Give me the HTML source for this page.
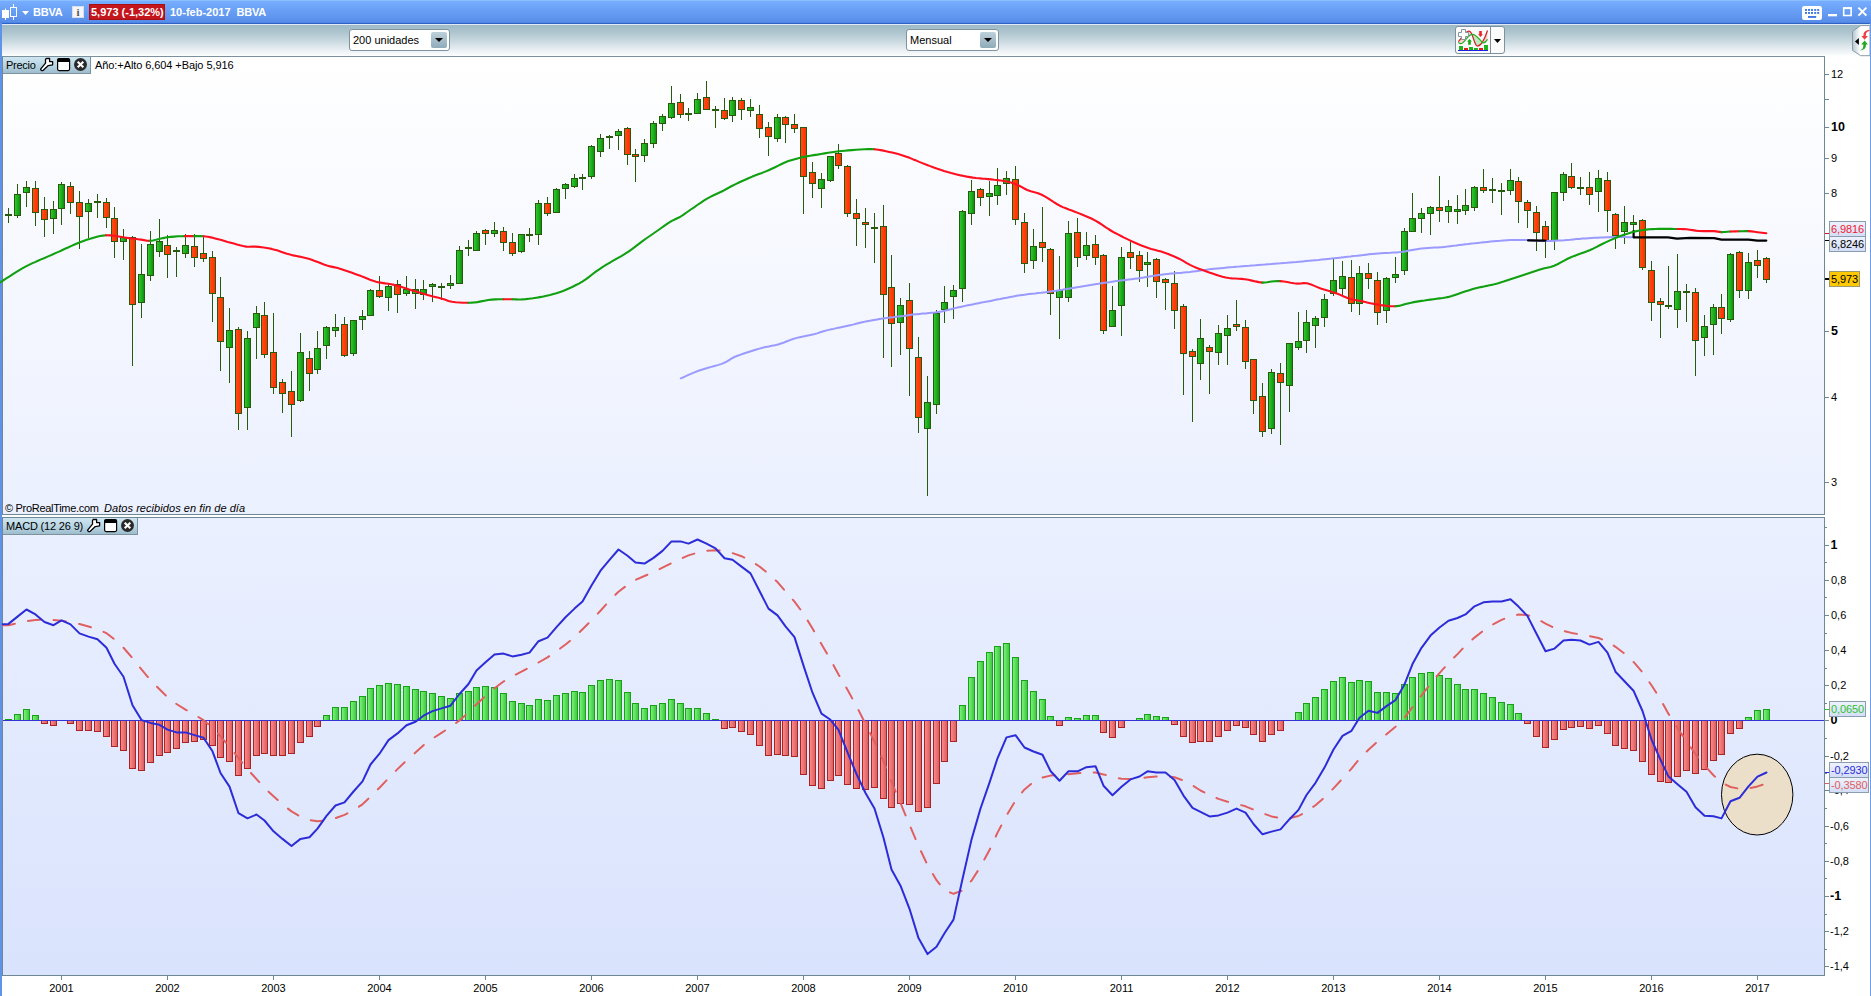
<!DOCTYPE html>
<html><head><meta charset="utf-8"><title>BBVA</title>
<style>
html,body{margin:0;padding:0;background:#fff;}
body{width:1871px;height:996px;position:relative;overflow:hidden;font-family:"Liberation Sans",sans-serif;font-size:11px;color:#000;}
.abs{position:absolute;}
#title{left:0;top:0;width:1871px;height:23px;background:linear-gradient(#93c9ff 0px,#76adff 1.5px,#6ca3f8 8px,#6197ef 16px,#578de8 22px,#4a7fdc 23px);}
#title span{position:absolute;top:6px;color:#fff;font-weight:bold;font-size:11px;white-space:nowrap;letter-spacing:0px}
#tline{left:0;top:23px;width:1871px;height:1px;background:#2f62c6;}
#tline2{left:2px;top:24px;width:1868px;height:1px;background:#dfeaf6;}
#toolbar{left:2px;top:25px;width:1868px;height:31px;background:linear-gradient(#9ebac6 0%,#abc3cd 20%,#c7d7de 50%,#e9eff3 80%,#fdfefe 100%);}
#tbline{left:2px;top:56px;width:1823px;height:1px;background:#7b919d;}
#lb{left:0;top:23px;width:2px;height:973px;background:#5f93ea;}
#rb{left:1870px;top:23px;width:1px;height:973px;background:#6a9cf0;}
.combo{position:absolute;top:29px;height:22px;background:#fff;border:1px solid #7f939e;border-radius:3px;box-sizing:border-box;font-size:11px;}
.combo span{position:absolute;left:3px;top:4px;white-space:nowrap}
.combo i{position:absolute;right:2px;top:2px;width:16px;height:16px;background:linear-gradient(#bcd0da,#8fabb9);border-radius:2px;}
.combo i:after{content:"";position:absolute;left:4px;top:6px;border:4px solid transparent;border-top:4px solid #000;border-bottom:0;}
.tab{position:absolute;height:17px;background:linear-gradient(#cfe6f1,#b5d2e0 60%,#9dbccc);border-right:1px solid #7c929e;border-bottom:1px solid #7c929e;box-sizing:border-box;font-size:11px;}
.tab span{position:absolute;left:3px;top:2px;white-space:nowrap}
.lbl{position:absolute;font-size:11px;white-space:nowrap}
.ax{position:absolute;font-size:11px;white-space:nowrap;line-height:12px}
.box{position:absolute;box-sizing:border-box;height:16px;border:1px solid #8a9db0;background:linear-gradient(#eef2fd,#d4def6);font-size:11px;line-height:14px;padding-left:1px;white-space:nowrap;letter-spacing:-0.1px}
</style></head><body>

<div id="title" class="abs">
<svg class="abs" style="left:0;top:0" width="32" height="24" viewBox="0 0 32 24"><rect x="2" y="10" width="7" height="8" fill="#fff"/><rect x="5" y="8.500" width="1" height="11.500" fill="#fff"/><rect x="10.5" y="7.5" width="6" height="9" fill="none" stroke="#fff" stroke-width="1"/><rect x="13" y="4" width="1" height="4" fill="#fff"/><rect x="13" y="16" width="1" height="4" fill="#fff"/><path d="M22 11 h7 l-3.5 4z" fill="#fff"/></svg>
<span style="left:33px;letter-spacing:-0.25px">BBVA</span>
<svg class="abs" style="left:72px;top:6px" width="13" height="13"><rect x="0.5" y="0.5" width="11" height="11" fill="#f6f6f6" stroke="#d5dff0"/><text x="6" y="10" font-family="Liberation Serif" font-weight="bold" font-size="11" text-anchor="middle" fill="#555">i</text></svg>
<div class="abs" style="left:89px;top:4px;width:76px;height:16px;background:#c4151c;border:1px solid #a80f14;box-sizing:border-box"></div>
<span style="left:91px">5,973 (-1,32%)</span>
<span style="left:170px">10-feb-2017</span><span style="left:236.500px;letter-spacing:-0.25px">BBVA</span>
<svg class="abs" style="left:1800px;top:0" width="71" height="24" viewBox="1800 0 71 24"><rect x="1802" y="6" width="20" height="14" rx="2.200" fill="#fff"/><g fill="#3f78e0"><rect x="1805" y="9" width="2" height="1.900"/><rect x="1808" y="9" width="2" height="1.900"/><rect x="1811" y="9" width="2" height="1.900"/><rect x="1814.2" y="9" width="2" height="1.900"/><rect x="1817.2" y="9" width="2" height="1.900"/><rect x="1805" y="12" width="2" height="1.900"/><rect x="1808" y="12" width="2" height="1.900"/><rect x="1811" y="12" width="2" height="1.900"/><rect x="1814.2" y="12" width="2" height="1.900"/><rect x="1817.2" y="12" width="2" height="1.900"/><rect x="1808" y="16" width="8.200" height="1.900"/></g><rect x="1828" y="14" width="9" height="2.300" fill="#fff"/><path d="M1843.700 8.300 h7.400 v7.200 h-7.400z" fill="none" stroke="#fff" stroke-width="1.600"/><rect x="1843" y="7.100" width="8.900" height="2" fill="#fff"/><path d="M1858.400 7.600 l8 8 M1866.400 7.600 l-8 8" stroke="#fff" stroke-width="2" fill="none"/></svg>
</div>
<div id="tline" class="abs"></div><div id="tline2" class="abs"></div><div id="toolbar" class="abs"></div><div id="tbline" class="abs"></div>
<div class="combo" style="left:349px;width:101px"><span>200 unidades</span><i></i></div>
<div class="combo" style="left:906px;width:93px"><span>Mensual</span><i></i></div>
<div class="abs" style="left:1455px;top:26px;width:50px;height:28px;border:1px solid #7d929e;border-radius:3px;box-sizing:border-box;background:#fbfbfc"></div>
<svg class="abs" style="left:1455px;top:26px" width="50" height="28" viewBox="0 0 50 28"><rect x="35" y="1" width="1" height="26" fill="#7d929e"/><path d="M3.300 15.700 C7 12,10 5.200,14.100 5.200 C18 5.200,19 20,22.400 20 C26 20,30 12,32.500 4.500 L32.500 13.400 C30 17.500,28.500 17,27.500 16.600 C24 13,21 8.300,17.400 8.300 C13 8.300,9 17.700,5.800 17.700 C4.500 17.700,4 17,3.300 16.300z" fill="#f9cccc" opacity=".9"/><path d="M18.300 11 C19.800 15.500,21 20,22.400 20 C24 20,25.500 18,26.800 15.800 C24 12.500,21.500 9.500,18.300 8.500z" fill="#bfe9bf"/><path d="M3.300 15.700 C7 12,10 5.200,14.100 5.200 C18 5.200,19 20,22.400 20 C26 20,30 12,32.500 4.500" fill="none" stroke="#cc2222" stroke-width="1.200"/><path d="M3.300 16.300 C4 17,4.500 17.700,5.800 17.700 C9 17.700,13 8.300,17.400 8.300 C21 8.300,24 13,27.500 16.600 C28.500 17,30 17.500,32.500 13.400" fill="none" stroke="#22b022" stroke-width="1.200"/><g fill="#1fb41f"><rect x="4" y="20" width="4" height="4"/><rect x="14" y="21" width="4" height="3"/><rect x="19" y="22" width="4" height="2"/><rect x="29" y="19" width="4" height="5"/></g><g fill="#e02020"><rect x="9" y="22" width="4" height="2"/><rect x="24" y="22" width="4" height="2"/></g><rect x="3" y="24" width="30" height="1" fill="#2020e0"/><path d="M6.500 3.500 h4 v3 h3 v4 h-3 v3 h-4 v-3 h-3 v-4 h3z" fill="#fff" stroke="#8795a0" stroke-width="1"/><path d="M12.100 15.600 l2.400 -2.600 l2.400 2.600 h-1.100 v3.200 h-2.600 v-3.200z" fill="#14a814"/><path d="M23.100 8.300 l2.400 2.600 l2.400 -2.600 h-1.100 v-3.200 h-2.600 v3.200z" fill="#f02222"/><path d="M39 13 h7 l-3.500 4z" fill="#000"/></svg>
<svg class="abs" style="left:1848px;top:24px" width="23" height="34" viewBox="1848 24 23 34"><defs><linearGradient id="wg" x1="0" y1="0" x2="1" y2="0"><stop offset="0" stop-color="#b4c6d0"/><stop offset=".45" stop-color="#ffffff"/><stop offset="1" stop-color="#ffffff"/></linearGradient></defs><path d="M1870 25.600 H1860.700 L1852.500 31.300 V50.300 L1860.700 55.700 H1870z" fill="url(#wg)" stroke="#8b9ca7" stroke-width="1"/><path d="M1854.900 41.400 l4 -3.500 v7z" fill="#000"/><path d="M1864.600 39.800 L1861.300 36.100 H1863.400 C1863.400 32.500 1865 30.200 1869.500 29.800 V31 C1866.800 31.600 1865.800 33 1865.800 36.100 H1867.900 Z" fill="#ee4040"/><path d="M1864.600 40.400 L1868 44.600 H1866 C1866 48.200 1864.500 50 1859.800 50.600 C1862.600 49.600 1863.400 48 1863.400 44.600 H1861.200 Z" fill="#22aa22"/></svg>
<div id="lb" class="abs"></div><div id="rb" class="abs"></div>
<svg class="abs" style="left:0;top:0" width="1871" height="996" viewBox="0 0 1871 996" shape-rendering="auto">
<defs>
<linearGradient id="bg1" x1="0" y1="0" x2="0" y2="1"><stop offset="0" stop-color="#ffffff"/><stop offset="1" stop-color="#ebf0ff"/></linearGradient>
<linearGradient id="bg2" x1="0" y1="0" x2="0" y2="1"><stop offset="0" stop-color="#eaf0ff"/><stop offset="1" stop-color="#dae3fd"/></linearGradient>
<linearGradient id="cg" x1="0" y1="0" x2="1" y2="0"><stop offset="0" stop-color="#30d030"/><stop offset="1" stop-color="#0c8c0c"/></linearGradient>
<linearGradient id="cr" x1="0" y1="0" x2="1" y2="0"><stop offset="0" stop-color="#ff5018"/><stop offset="1" stop-color="#ff2c00"/></linearGradient>
<linearGradient id="hg" x1="0" y1="0" x2="1" y2="0"><stop offset="0" stop-color="#7cf67c"/><stop offset="1" stop-color="#3cc43c"/></linearGradient>
<linearGradient id="hr" x1="0" y1="0" x2="1" y2="0"><stop offset="0" stop-color="#ff8c8c"/><stop offset="1" stop-color="#d85c5c"/></linearGradient>
</defs>
<rect x="2" y="57" width="1822" height="458" fill="url(#bg1)"/>
<rect x="2" y="518" width="1822" height="457" fill="url(#bg2)"/>
<g fill="#6f8896">
<rect x="2" y="56" width="1" height="459"/><rect x="2" y="517" width="1" height="459"/>
<rect x="2" y="514" width="1823" height="1"/>
<rect x="2" y="517" width="1823" height="1"/>
<rect x="1824" y="57" width="1" height="458"/>
<rect x="1824" y="517" width="1" height="459"/>
<rect x="2" y="975" width="1823" height="1"/>
<rect x="1825" y="74" width="4" height="1"/>
<rect x="1825" y="99" width="4" height="1"/>
<rect x="1825" y="127" width="4" height="1"/>
<rect x="1825" y="158" width="4" height="1"/>
<rect x="1825" y="193" width="4" height="1"/>
<rect x="1825" y="331" width="4" height="1"/>
<rect x="1825" y="397" width="4" height="1"/>
<rect x="1825" y="482" width="4" height="1"/>
<rect x="1825" y="966" width="4" height="1"/>
<rect x="1825" y="949" width="2" height="1"/>
<rect x="1825" y="931" width="4" height="1"/>
<rect x="1825" y="914" width="2" height="1"/>
<rect x="1825" y="896" width="4" height="1"/>
<rect x="1825" y="878" width="2" height="1"/>
<rect x="1825" y="861" width="4" height="1"/>
<rect x="1825" y="843" width="2" height="1"/>
<rect x="1825" y="826" width="4" height="1"/>
<rect x="1825" y="808" width="2" height="1"/>
<rect x="1825" y="790" width="4" height="1"/>
<rect x="1825" y="773" width="2" height="1"/>
<rect x="1825" y="756" width="4" height="1"/>
<rect x="1825" y="738" width="2" height="1"/>
<rect x="1825" y="720" width="4" height="1"/>
<rect x="1825" y="703" width="2" height="1"/>
<rect x="1825" y="685" width="4" height="1"/>
<rect x="1825" y="668" width="2" height="1"/>
<rect x="1825" y="650" width="4" height="1"/>
<rect x="1825" y="633" width="2" height="1"/>
<rect x="1825" y="615" width="4" height="1"/>
<rect x="1825" y="597" width="2" height="1"/>
<rect x="1825" y="580" width="4" height="1"/>
<rect x="1825" y="562" width="2" height="1"/>
<rect x="1825" y="545" width="4" height="1"/>
<rect x="1825" y="527" width="2" height="1"/>
<rect x="61" y="976" width="1" height="4"/>
<rect x="167" y="976" width="1" height="4"/>
<rect x="273" y="976" width="1" height="4"/>
<rect x="379" y="976" width="1" height="4"/>
<rect x="485" y="976" width="1" height="4"/>
<rect x="591" y="976" width="1" height="4"/>
<rect x="697" y="976" width="1" height="4"/>
<rect x="803" y="976" width="1" height="4"/>
<rect x="909" y="976" width="1" height="4"/>
<rect x="1015" y="976" width="1" height="4"/>
<rect x="1121" y="976" width="1" height="4"/>
<rect x="1227" y="976" width="1" height="4"/>
<rect x="1333" y="976" width="1" height="4"/>
<rect x="1439" y="976" width="1" height="4"/>
<rect x="1545" y="976" width="1" height="4"/>
<rect x="1651" y="976" width="1" height="4"/>
<rect x="1757" y="976" width="1" height="4"/>
</g>
<g stroke="#285a0c" stroke-width="1">
<line x1="8.5" y1="208" x2="8.5" y2="223"/>
<rect x="5" y="214" width="7" height="2" fill="#285a0c" stroke="none"/>
<line x1="17.5" y1="184" x2="17.5" y2="218"/>
<rect x="14.5" y="194.5" width="6" height="21.0" fill="url(#cg)"/>
<line x1="26.5" y1="181" x2="26.5" y2="207"/>
<rect x="23.5" y="187.5" width="6" height="5.0" fill="url(#cg)"/>
<line x1="35.5" y1="181" x2="35.5" y2="226"/>
<rect x="32.5" y="188.5" width="6" height="24.0" fill="url(#cr)"/>
<line x1="44.5" y1="197" x2="44.5" y2="237"/>
<rect x="41.5" y="209.5" width="6" height="10.0" fill="url(#cr)"/>
<line x1="53.5" y1="201" x2="53.5" y2="234"/>
<rect x="50.5" y="209.5" width="6" height="9.0" fill="url(#cg)"/>
<line x1="61.5" y1="182" x2="61.5" y2="225"/>
<rect x="58.5" y="184.5" width="6" height="24.0" fill="url(#cg)"/>
<line x1="70.5" y1="182" x2="70.5" y2="214"/>
<rect x="67.5" y="186.5" width="6" height="16.0" fill="url(#cr)"/>
<line x1="79.5" y1="191" x2="79.5" y2="249"/>
<rect x="76.5" y="202.5" width="6" height="14.0" fill="url(#cr)"/>
<line x1="88.5" y1="199" x2="88.5" y2="238"/>
<rect x="85.5" y="203.5" width="6" height="8.0" fill="url(#cg)"/>
<line x1="97.5" y1="194" x2="97.5" y2="218"/>
<rect x="94" y="201" width="7" height="2" fill="#285a0c" stroke="none"/>
<line x1="106.5" y1="198" x2="106.5" y2="228"/>
<rect x="103.5" y="202.5" width="6" height="15.0" fill="url(#cr)"/>
<line x1="114.5" y1="207" x2="114.5" y2="258"/>
<rect x="111.5" y="218.5" width="6" height="23.0" fill="url(#cr)"/>
<line x1="123.5" y1="229" x2="123.5" y2="260"/>
<rect x="120.5" y="237.5" width="6" height="4.0" fill="url(#cg)"/>
<line x1="132.5" y1="236" x2="132.5" y2="366"/>
<rect x="129.5" y="237.5" width="6" height="67.0" fill="url(#cr)"/>
<line x1="141.5" y1="244" x2="141.5" y2="318"/>
<rect x="138.5" y="274.5" width="6" height="28.0" fill="url(#cg)"/>
<line x1="150.5" y1="231" x2="150.5" y2="281"/>
<rect x="147.5" y="244.5" width="6" height="31.0" fill="url(#cg)"/>
<line x1="159.5" y1="219" x2="159.5" y2="257"/>
<rect x="156.5" y="241.5" width="6" height="10.0" fill="url(#cg)"/>
<line x1="167.5" y1="235" x2="167.5" y2="278"/>
<rect x="164.5" y="245.5" width="6" height="9.0" fill="url(#cr)"/>
<line x1="176.5" y1="247" x2="176.5" y2="277"/>
<rect x="173" y="250" width="7" height="2" fill="#285a0c" stroke="none"/>
<line x1="185.5" y1="234" x2="185.5" y2="258"/>
<rect x="182.5" y="245.5" width="6" height="8.0" fill="url(#cg)"/>
<line x1="194.5" y1="234" x2="194.5" y2="267"/>
<rect x="191.5" y="246.5" width="6" height="11.0" fill="url(#cr)"/>
<line x1="203.5" y1="237" x2="203.5" y2="262"/>
<rect x="200.5" y="253.5" width="6" height="5.0" fill="url(#cr)"/>
<line x1="212.5" y1="251" x2="212.5" y2="322"/>
<rect x="209.5" y="257.5" width="6" height="36.0" fill="url(#cr)"/>
<line x1="220.5" y1="277" x2="220.5" y2="371"/>
<rect x="217.5" y="297.5" width="6" height="44.0" fill="url(#cr)"/>
<line x1="229.5" y1="308" x2="229.5" y2="383"/>
<rect x="226.5" y="330.5" width="6" height="17.0" fill="url(#cg)"/>
<line x1="238.5" y1="327" x2="238.5" y2="430"/>
<rect x="235.5" y="329.5" width="6" height="84.0" fill="url(#cr)"/>
<line x1="247.5" y1="331" x2="247.5" y2="430"/>
<rect x="244.5" y="338.5" width="6" height="69.0" fill="url(#cg)"/>
<line x1="256.5" y1="306" x2="256.5" y2="359"/>
<rect x="253.5" y="313.5" width="6" height="14.0" fill="url(#cg)"/>
<line x1="264.5" y1="302" x2="264.5" y2="358"/>
<rect x="261.5" y="315.5" width="6" height="39.0" fill="url(#cr)"/>
<line x1="273.5" y1="313" x2="273.5" y2="394"/>
<rect x="270.5" y="352.5" width="6" height="35.0" fill="url(#cr)"/>
<line x1="282.5" y1="379" x2="282.5" y2="413"/>
<rect x="279.5" y="382.5" width="6" height="11.0" fill="url(#cr)"/>
<line x1="291.5" y1="371" x2="291.5" y2="437"/>
<rect x="288.5" y="391.5" width="6" height="13.0" fill="url(#cr)"/>
<line x1="300.5" y1="333" x2="300.5" y2="402"/>
<rect x="297.5" y="352.5" width="6" height="48.0" fill="url(#cg)"/>
<line x1="309.5" y1="351" x2="309.5" y2="391"/>
<rect x="306.5" y="358.5" width="6" height="15.0" fill="url(#cr)"/>
<line x1="317.5" y1="331" x2="317.5" y2="374"/>
<rect x="314.5" y="348.5" width="6" height="21.0" fill="url(#cg)"/>
<line x1="326.5" y1="326" x2="326.5" y2="359"/>
<rect x="323.5" y="327.5" width="6" height="18.0" fill="url(#cg)"/>
<line x1="335.5" y1="314" x2="335.5" y2="337"/>
<rect x="332.5" y="327.5" width="6" height="3.0" fill="url(#cg)"/>
<line x1="344.5" y1="317" x2="344.5" y2="357"/>
<rect x="341.5" y="324.5" width="6" height="31.0" fill="url(#cr)"/>
<line x1="353.5" y1="320" x2="353.5" y2="356"/>
<rect x="350.5" y="320.5" width="6" height="33.0" fill="url(#cg)"/>
<line x1="362.5" y1="310" x2="362.5" y2="330"/>
<rect x="359.5" y="316.5" width="6" height="3.0" fill="url(#cg)"/>
<line x1="370.5" y1="289" x2="370.5" y2="316"/>
<rect x="367.5" y="290.5" width="6" height="25.0" fill="url(#cg)"/>
<line x1="379.5" y1="276" x2="379.5" y2="298"/>
<rect x="376.5" y="290.5" width="6" height="6.0" fill="url(#cr)"/>
<line x1="388.5" y1="284" x2="388.5" y2="311"/>
<rect x="385.5" y="286.5" width="6" height="11.0" fill="url(#cg)"/>
<line x1="397.5" y1="280" x2="397.5" y2="313"/>
<rect x="394.5" y="284.5" width="6" height="10.0" fill="url(#cr)"/>
<line x1="406.5" y1="276" x2="406.5" y2="296"/>
<rect x="403.5" y="289.5" width="6" height="4.0" fill="url(#cg)"/>
<line x1="415.5" y1="279" x2="415.5" y2="309"/>
<rect x="412.5" y="289.5" width="6" height="4.0" fill="url(#cg)"/>
<line x1="423.5" y1="280" x2="423.5" y2="300"/>
<rect x="420.5" y="289.5" width="6" height="5.0" fill="url(#cg)"/>
<line x1="432.5" y1="283" x2="432.5" y2="302"/>
<rect x="429.5" y="284.5" width="6" height="2.0" fill="url(#cg)"/>
<line x1="441.5" y1="283" x2="441.5" y2="300"/>
<rect x="438" y="286" width="7" height="2" fill="#285a0c" stroke="none"/>
<line x1="450.5" y1="275" x2="450.5" y2="289"/>
<rect x="447.5" y="283.5" width="6" height="2.0" fill="url(#cg)"/>
<line x1="459.5" y1="246" x2="459.5" y2="284"/>
<rect x="456.5" y="250.5" width="6" height="33.0" fill="url(#cg)"/>
<line x1="468.5" y1="240" x2="468.5" y2="256"/>
<rect x="465" y="247" width="7" height="2" fill="#285a0c" stroke="none"/>
<line x1="476.5" y1="231" x2="476.5" y2="251"/>
<rect x="473.5" y="233.5" width="6" height="17.0" fill="url(#cg)"/>
<line x1="485.5" y1="229" x2="485.5" y2="245"/>
<rect x="482.5" y="230.5" width="6" height="3.0" fill="url(#cr)"/>
<line x1="494.5" y1="222" x2="494.5" y2="237"/>
<rect x="491.5" y="230.5" width="6" height="3.0" fill="url(#cg)"/>
<line x1="503.5" y1="227" x2="503.5" y2="251"/>
<rect x="500.5" y="231.5" width="6" height="11.0" fill="url(#cr)"/>
<line x1="512.5" y1="233" x2="512.5" y2="256"/>
<rect x="509.5" y="242.5" width="6" height="11.0" fill="url(#cr)"/>
<line x1="521.5" y1="234" x2="521.5" y2="253"/>
<rect x="518.5" y="234.5" width="6" height="17.0" fill="url(#cg)"/>
<line x1="529.5" y1="228" x2="529.5" y2="242"/>
<rect x="526" y="234" width="7" height="2" fill="#285a0c" stroke="none"/>
<line x1="538.5" y1="200" x2="538.5" y2="245"/>
<rect x="535.5" y="203.5" width="6" height="31.0" fill="url(#cg)"/>
<line x1="547.5" y1="197" x2="547.5" y2="216"/>
<rect x="544.5" y="203.5" width="6" height="10.0" fill="url(#cr)"/>
<line x1="556.5" y1="188" x2="556.5" y2="213"/>
<rect x="553.5" y="189.5" width="6" height="23.0" fill="url(#cg)"/>
<line x1="565.5" y1="183" x2="565.5" y2="199"/>
<rect x="562.5" y="184.5" width="6" height="4.0" fill="url(#cg)"/>
<line x1="574.5" y1="174" x2="574.5" y2="188"/>
<rect x="571.5" y="178.5" width="6" height="8.0" fill="url(#cg)"/>
<line x1="582.5" y1="174" x2="582.5" y2="190"/>
<rect x="579" y="177" width="7" height="2" fill="#285a0c" stroke="none"/>
<line x1="591.5" y1="145" x2="591.5" y2="179"/>
<rect x="588.5" y="146.5" width="6" height="30.0" fill="url(#cg)"/>
<line x1="600.5" y1="134" x2="600.5" y2="157"/>
<rect x="597.5" y="138.5" width="6" height="13.0" fill="url(#cg)"/>
<line x1="609.5" y1="135" x2="609.5" y2="149"/>
<rect x="606.5" y="136.5" width="6" height="1.0" fill="url(#cg)"/>
<line x1="618.5" y1="129" x2="618.5" y2="150"/>
<rect x="615.5" y="131.5" width="6" height="4.0" fill="url(#cg)"/>
<line x1="627.5" y1="127" x2="627.5" y2="165"/>
<rect x="624.5" y="128.5" width="6" height="26.0" fill="url(#cr)"/>
<line x1="635.5" y1="149" x2="635.5" y2="182"/>
<rect x="632.5" y="154.5" width="6" height="2.0" fill="url(#cr)"/>
<line x1="644.5" y1="139" x2="644.5" y2="162"/>
<rect x="641.5" y="143.5" width="6" height="12.0" fill="url(#cg)"/>
<line x1="653.5" y1="121" x2="653.5" y2="148"/>
<rect x="650.5" y="123.5" width="6" height="20.0" fill="url(#cg)"/>
<line x1="662.5" y1="114" x2="662.5" y2="131"/>
<rect x="659.5" y="116.5" width="6" height="7.0" fill="url(#cg)"/>
<line x1="671.5" y1="86" x2="671.5" y2="119"/>
<rect x="668.5" y="103.5" width="6" height="14.0" fill="url(#cg)"/>
<line x1="680.5" y1="94" x2="680.5" y2="118"/>
<rect x="677.5" y="102.5" width="6" height="12.0" fill="url(#cr)"/>
<line x1="688.5" y1="108" x2="688.5" y2="121"/>
<rect x="685" y="113" width="7" height="2" fill="#285a0c" stroke="none"/>
<line x1="697.5" y1="93" x2="697.5" y2="114"/>
<rect x="694.5" y="99.5" width="6" height="14.0" fill="url(#cg)"/>
<line x1="706.5" y1="81" x2="706.5" y2="110"/>
<rect x="703.5" y="97.5" width="6" height="12.0" fill="url(#cr)"/>
<line x1="715.5" y1="106" x2="715.5" y2="128"/>
<rect x="712" y="109" width="7" height="2" fill="#285a0c" stroke="none"/>
<line x1="724.5" y1="98" x2="724.5" y2="120"/>
<rect x="721.5" y="110.5" width="6" height="8.0" fill="url(#cr)"/>
<line x1="732.5" y1="97" x2="732.5" y2="122"/>
<rect x="729.5" y="100.5" width="6" height="15.0" fill="url(#cg)"/>
<line x1="741.5" y1="98" x2="741.5" y2="120"/>
<rect x="738.5" y="100.5" width="6" height="9.0" fill="url(#cr)"/>
<line x1="750.5" y1="99" x2="750.5" y2="117"/>
<rect x="747.5" y="107.5" width="6" height="3.0" fill="url(#cg)"/>
<line x1="759.5" y1="105" x2="759.5" y2="138"/>
<rect x="756.5" y="114.5" width="6" height="14.0" fill="url(#cr)"/>
<line x1="768.5" y1="122" x2="768.5" y2="156"/>
<rect x="765.5" y="127.5" width="6" height="9.0" fill="url(#cr)"/>
<line x1="777.5" y1="114" x2="777.5" y2="142"/>
<rect x="774.5" y="117.5" width="6" height="21.0" fill="url(#cg)"/>
<line x1="785.5" y1="116" x2="785.5" y2="143"/>
<rect x="782.5" y="117.5" width="6" height="7.0" fill="url(#cr)"/>
<line x1="794.5" y1="114" x2="794.5" y2="133"/>
<rect x="791.5" y="124.5" width="6" height="4.0" fill="url(#cr)"/>
<line x1="803.5" y1="127" x2="803.5" y2="214"/>
<rect x="800.5" y="127.5" width="6" height="49.0" fill="url(#cr)"/>
<line x1="812.5" y1="162" x2="812.5" y2="198"/>
<rect x="809.5" y="172.5" width="6" height="11.0" fill="url(#cr)"/>
<line x1="821.5" y1="173" x2="821.5" y2="208"/>
<rect x="818.5" y="179.5" width="6" height="9.0" fill="url(#cg)"/>
<line x1="830.5" y1="156" x2="830.5" y2="182"/>
<rect x="827.5" y="156.5" width="6" height="24.0" fill="url(#cg)"/>
<line x1="838.5" y1="144" x2="838.5" y2="169"/>
<rect x="835.5" y="153.5" width="6" height="12.0" fill="url(#cr)"/>
<line x1="847.5" y1="165" x2="847.5" y2="217"/>
<rect x="844.5" y="166.5" width="6" height="47.0" fill="url(#cr)"/>
<line x1="856.5" y1="199" x2="856.5" y2="246"/>
<rect x="853.5" y="213.5" width="6" height="5.0" fill="url(#cr)"/>
<line x1="865.5" y1="208" x2="865.5" y2="248"/>
<rect x="862.5" y="222.5" width="6" height="2.0" fill="url(#cr)"/>
<line x1="874.5" y1="213" x2="874.5" y2="263"/>
<rect x="871" y="227" width="7" height="2" fill="#285a0c" stroke="none"/>
<line x1="883.5" y1="205" x2="883.5" y2="358"/>
<rect x="880.5" y="226.5" width="6" height="68.0" fill="url(#cr)"/>
<line x1="891.5" y1="255" x2="891.5" y2="367"/>
<rect x="888.5" y="287.5" width="6" height="36.0" fill="url(#cr)"/>
<line x1="900.5" y1="298" x2="900.5" y2="355"/>
<rect x="897.5" y="305.5" width="6" height="17.0" fill="url(#cg)"/>
<line x1="909.5" y1="283" x2="909.5" y2="396"/>
<rect x="906.5" y="300.5" width="6" height="48.0" fill="url(#cr)"/>
<line x1="918.5" y1="337" x2="918.5" y2="433"/>
<rect x="915.5" y="357.5" width="6" height="60.0" fill="url(#cr)"/>
<line x1="927.5" y1="376" x2="927.5" y2="496"/>
<rect x="924.5" y="402.5" width="6" height="26.0" fill="url(#cg)"/>
<line x1="936.5" y1="310" x2="936.5" y2="414"/>
<rect x="933.5" y="313.5" width="6" height="91.0" fill="url(#cg)"/>
<line x1="944.5" y1="286" x2="944.5" y2="323"/>
<rect x="941.5" y="302.5" width="6" height="7.0" fill="url(#cg)"/>
<line x1="953.5" y1="285" x2="953.5" y2="319"/>
<rect x="950.5" y="290.5" width="6" height="6.0" fill="url(#cg)"/>
<line x1="962.5" y1="210" x2="962.5" y2="302"/>
<rect x="959.5" y="211.5" width="6" height="77.0" fill="url(#cg)"/>
<line x1="971.5" y1="180" x2="971.5" y2="225"/>
<rect x="968.5" y="191.5" width="6" height="22.0" fill="url(#cg)"/>
<line x1="980.5" y1="188" x2="980.5" y2="206"/>
<rect x="977.5" y="189.5" width="6" height="8.0" fill="url(#cr)"/>
<line x1="989.5" y1="181" x2="989.5" y2="216"/>
<rect x="986.5" y="193.5" width="6" height="3.0" fill="url(#cg)"/>
<line x1="997.5" y1="168" x2="997.5" y2="205"/>
<rect x="994.5" y="185.5" width="6" height="10.0" fill="url(#cg)"/>
<line x1="1006.5" y1="171" x2="1006.5" y2="195"/>
<rect x="1003.5" y="178.5" width="6" height="5.0" fill="url(#cg)"/>
<line x1="1015.5" y1="166" x2="1015.5" y2="225"/>
<rect x="1012.5" y="179.5" width="6" height="40.0" fill="url(#cr)"/>
<line x1="1024.5" y1="213" x2="1024.5" y2="273"/>
<rect x="1021.5" y="222.5" width="6" height="41.0" fill="url(#cr)"/>
<line x1="1033.5" y1="229" x2="1033.5" y2="269"/>
<rect x="1030.5" y="246.5" width="6" height="14.0" fill="url(#cg)"/>
<line x1="1042.5" y1="207" x2="1042.5" y2="262"/>
<rect x="1039.5" y="242.5" width="6" height="5.0" fill="url(#cr)"/>
<line x1="1050.5" y1="248" x2="1050.5" y2="315"/>
<rect x="1047.5" y="249.5" width="6" height="44.0" fill="url(#cr)"/>
<line x1="1059.5" y1="256" x2="1059.5" y2="339"/>
<rect x="1056.5" y="290.5" width="6" height="7.0" fill="url(#cg)"/>
<line x1="1068.5" y1="221" x2="1068.5" y2="302"/>
<rect x="1065.5" y="233.5" width="6" height="64.0" fill="url(#cg)"/>
<line x1="1077.5" y1="218" x2="1077.5" y2="267"/>
<rect x="1074.5" y="232.5" width="6" height="25.0" fill="url(#cr)"/>
<line x1="1086.5" y1="232" x2="1086.5" y2="260"/>
<rect x="1083.5" y="245.5" width="6" height="10.0" fill="url(#cg)"/>
<line x1="1095.5" y1="235" x2="1095.5" y2="265"/>
<rect x="1092.5" y="244.5" width="6" height="13.0" fill="url(#cr)"/>
<line x1="1103.5" y1="254" x2="1103.5" y2="334"/>
<rect x="1100.5" y="255.5" width="6" height="75.0" fill="url(#cr)"/>
<line x1="1112.5" y1="286" x2="1112.5" y2="327"/>
<rect x="1109.5" y="310.5" width="6" height="16.0" fill="url(#cg)"/>
<line x1="1121.5" y1="247" x2="1121.5" y2="336"/>
<rect x="1118.5" y="257.5" width="6" height="48.0" fill="url(#cg)"/>
<line x1="1130.5" y1="240" x2="1130.5" y2="269"/>
<rect x="1127.5" y="252.5" width="6" height="5.0" fill="url(#cr)"/>
<line x1="1139.5" y1="251" x2="1139.5" y2="282"/>
<rect x="1136.5" y="255.5" width="6" height="15.0" fill="url(#cr)"/>
<line x1="1147.5" y1="252" x2="1147.5" y2="287"/>
<rect x="1144.5" y="262.5" width="6" height="2.0" fill="url(#cg)"/>
<line x1="1156.5" y1="258" x2="1156.5" y2="298"/>
<rect x="1153.5" y="259.5" width="6" height="22.0" fill="url(#cr)"/>
<line x1="1165.5" y1="278" x2="1165.5" y2="310"/>
<rect x="1162.5" y="279.5" width="6" height="3.0" fill="url(#cr)"/>
<line x1="1174.5" y1="271" x2="1174.5" y2="329"/>
<rect x="1171.5" y="283.5" width="6" height="27.0" fill="url(#cr)"/>
<line x1="1183.5" y1="304" x2="1183.5" y2="395"/>
<rect x="1180.5" y="306.5" width="6" height="47.0" fill="url(#cr)"/>
<line x1="1192.5" y1="349" x2="1192.5" y2="422"/>
<rect x="1189.5" y="351.5" width="6" height="5.0" fill="url(#cr)"/>
<line x1="1200.5" y1="319" x2="1200.5" y2="380"/>
<rect x="1197.5" y="338.5" width="6" height="25.0" fill="url(#cg)"/>
<line x1="1209.5" y1="345" x2="1209.5" y2="394"/>
<rect x="1206.5" y="347.5" width="6" height="4.0" fill="url(#cr)"/>
<line x1="1218.5" y1="325" x2="1218.5" y2="365"/>
<rect x="1215.5" y="333.5" width="6" height="19.0" fill="url(#cg)"/>
<line x1="1227.5" y1="315" x2="1227.5" y2="365"/>
<rect x="1224.5" y="328.5" width="6" height="7.0" fill="url(#cg)"/>
<line x1="1236.5" y1="300" x2="1236.5" y2="331"/>
<rect x="1233.5" y="324.5" width="6" height="2.0" fill="url(#cr)"/>
<line x1="1245.5" y1="320" x2="1245.5" y2="369"/>
<rect x="1242.5" y="327.5" width="6" height="34.0" fill="url(#cr)"/>
<line x1="1253.5" y1="359" x2="1253.5" y2="414"/>
<rect x="1250.5" y="359.5" width="6" height="41.0" fill="url(#cr)"/>
<line x1="1262.5" y1="383" x2="1262.5" y2="437"/>
<rect x="1259.5" y="396.5" width="6" height="35.0" fill="url(#cr)"/>
<line x1="1271.5" y1="369" x2="1271.5" y2="434"/>
<rect x="1268.5" y="372.5" width="6" height="56.0" fill="url(#cg)"/>
<line x1="1280.5" y1="363" x2="1280.5" y2="445"/>
<rect x="1277.5" y="373.5" width="6" height="9.0" fill="url(#cr)"/>
<line x1="1289.5" y1="343" x2="1289.5" y2="412"/>
<rect x="1286.5" y="343.5" width="6" height="42.0" fill="url(#cg)"/>
<line x1="1298.5" y1="312" x2="1298.5" y2="350"/>
<rect x="1295.5" y="341.5" width="6" height="6.0" fill="url(#cg)"/>
<line x1="1306.5" y1="310" x2="1306.5" y2="353"/>
<rect x="1303.5" y="322.5" width="6" height="18.0" fill="url(#cg)"/>
<line x1="1315.5" y1="316" x2="1315.5" y2="348"/>
<rect x="1312.5" y="318.5" width="6" height="7.0" fill="url(#cg)"/>
<line x1="1324.5" y1="294" x2="1324.5" y2="327"/>
<rect x="1321.5" y="299.5" width="6" height="18.0" fill="url(#cg)"/>
<line x1="1333.5" y1="259" x2="1333.5" y2="296"/>
<rect x="1330.5" y="280.5" width="6" height="13.0" fill="url(#cg)"/>
<line x1="1342.5" y1="261" x2="1342.5" y2="295"/>
<rect x="1339.5" y="276.5" width="6" height="12.0" fill="url(#cg)"/>
<line x1="1351.5" y1="260" x2="1351.5" y2="312"/>
<rect x="1348.5" y="277.5" width="6" height="26.0" fill="url(#cr)"/>
<line x1="1359.5" y1="266" x2="1359.5" y2="315"/>
<rect x="1356.5" y="273.5" width="6" height="30.0" fill="url(#cg)"/>
<line x1="1368.5" y1="263" x2="1368.5" y2="289"/>
<rect x="1365.5" y="273.5" width="6" height="5.0" fill="url(#cr)"/>
<line x1="1377.5" y1="272" x2="1377.5" y2="325"/>
<rect x="1374.5" y="280.5" width="6" height="32.0" fill="url(#cr)"/>
<line x1="1386.5" y1="277" x2="1386.5" y2="323"/>
<rect x="1383.5" y="278.5" width="6" height="32.0" fill="url(#cg)"/>
<line x1="1395.5" y1="257" x2="1395.5" y2="283"/>
<rect x="1392.5" y="274.5" width="6" height="3.0" fill="url(#cg)"/>
<line x1="1404.5" y1="228" x2="1404.5" y2="275"/>
<rect x="1401.5" y="231.5" width="6" height="39.0" fill="url(#cg)"/>
<line x1="1412.5" y1="193" x2="1412.5" y2="232"/>
<rect x="1409.5" y="218.5" width="6" height="13.0" fill="url(#cg)"/>
<line x1="1421.5" y1="208" x2="1421.5" y2="233"/>
<rect x="1418.5" y="213.5" width="6" height="5.0" fill="url(#cg)"/>
<line x1="1430.5" y1="206" x2="1430.5" y2="235"/>
<rect x="1427.5" y="207.5" width="6" height="6.0" fill="url(#cg)"/>
<line x1="1439.5" y1="176" x2="1439.5" y2="222"/>
<rect x="1436.5" y="207.5" width="6" height="3.0" fill="url(#cr)"/>
<line x1="1448.5" y1="200" x2="1448.5" y2="223"/>
<rect x="1445.5" y="206.5" width="6" height="5.0" fill="url(#cg)"/>
<line x1="1457.5" y1="195" x2="1457.5" y2="224"/>
<rect x="1454.5" y="209.5" width="6" height="2.0" fill="url(#cg)"/>
<line x1="1465.5" y1="189" x2="1465.5" y2="215"/>
<rect x="1462.5" y="205.5" width="6" height="5.0" fill="url(#cg)"/>
<line x1="1474.5" y1="186" x2="1474.5" y2="211"/>
<rect x="1471.5" y="187.5" width="6" height="20.0" fill="url(#cg)"/>
<line x1="1483.5" y1="169" x2="1483.5" y2="193"/>
<rect x="1480.5" y="187.5" width="6" height="3.0" fill="url(#cr)"/>
<line x1="1492.5" y1="178" x2="1492.5" y2="203"/>
<rect x="1489" y="189" width="7" height="2" fill="#285a0c" stroke="none"/>
<line x1="1501.5" y1="183" x2="1501.5" y2="215"/>
<rect x="1498" y="190" width="7" height="2" fill="#285a0c" stroke="none"/>
<line x1="1510.5" y1="169" x2="1510.5" y2="195"/>
<rect x="1507.5" y="180.5" width="6" height="10.0" fill="url(#cg)"/>
<line x1="1518.5" y1="177" x2="1518.5" y2="223"/>
<rect x="1515.5" y="181.5" width="6" height="20.0" fill="url(#cr)"/>
<line x1="1527.5" y1="200" x2="1527.5" y2="228"/>
<rect x="1524.5" y="202.5" width="6" height="8.0" fill="url(#cr)"/>
<line x1="1536.5" y1="206" x2="1536.5" y2="251"/>
<rect x="1533.5" y="212.5" width="6" height="20.0" fill="url(#cr)"/>
<line x1="1545.5" y1="221" x2="1545.5" y2="258"/>
<rect x="1542.5" y="226.5" width="6" height="14.0" fill="url(#cr)"/>
<line x1="1554.5" y1="192" x2="1554.5" y2="250"/>
<rect x="1551.5" y="192.5" width="6" height="48.0" fill="url(#cg)"/>
<line x1="1563.5" y1="172" x2="1563.5" y2="201"/>
<rect x="1560.5" y="174.5" width="6" height="18.0" fill="url(#cg)"/>
<line x1="1571.5" y1="163" x2="1571.5" y2="189"/>
<rect x="1568.5" y="176.5" width="6" height="11.0" fill="url(#cr)"/>
<line x1="1580.5" y1="177" x2="1580.5" y2="195"/>
<rect x="1577" y="187" width="7" height="2" fill="#285a0c" stroke="none"/>
<line x1="1589.5" y1="172" x2="1589.5" y2="205"/>
<rect x="1586.5" y="187.5" width="6" height="7.0" fill="url(#cr)"/>
<line x1="1598.5" y1="170" x2="1598.5" y2="212"/>
<rect x="1595.5" y="178.5" width="6" height="13.0" fill="url(#cg)"/>
<line x1="1607.5" y1="172" x2="1607.5" y2="232"/>
<rect x="1604.5" y="180.5" width="6" height="30.0" fill="url(#cr)"/>
<line x1="1615.5" y1="213" x2="1615.5" y2="249"/>
<rect x="1612.5" y="214.5" width="6" height="21.0" fill="url(#cr)"/>
<line x1="1624.5" y1="206" x2="1624.5" y2="244"/>
<rect x="1621.5" y="222.5" width="6" height="9.0" fill="url(#cg)"/>
<line x1="1633.5" y1="215" x2="1633.5" y2="238"/>
<rect x="1630.5" y="222.5" width="6" height="2.0" fill="url(#cg)"/>
<line x1="1642.5" y1="219" x2="1642.5" y2="270"/>
<rect x="1639.5" y="220.5" width="6" height="47.0" fill="url(#cr)"/>
<line x1="1651.5" y1="261" x2="1651.5" y2="321"/>
<rect x="1648.5" y="270.5" width="6" height="32.0" fill="url(#cr)"/>
<line x1="1660.5" y1="298" x2="1660.5" y2="338"/>
<rect x="1657.5" y="301.5" width="6" height="3.0" fill="url(#cr)"/>
<line x1="1668.5" y1="266" x2="1668.5" y2="309"/>
<rect x="1665" y="305" width="7" height="2" fill="#285a0c" stroke="none"/>
<line x1="1677.5" y1="254" x2="1677.5" y2="328"/>
<rect x="1674.5" y="291.5" width="6" height="18.0" fill="url(#cg)"/>
<line x1="1686.5" y1="284" x2="1686.5" y2="322"/>
<rect x="1683" y="291" width="7" height="2" fill="#285a0c" stroke="none"/>
<line x1="1695.5" y1="288" x2="1695.5" y2="376"/>
<rect x="1692.5" y="292.5" width="6" height="48.0" fill="url(#cr)"/>
<line x1="1704.5" y1="315" x2="1704.5" y2="356"/>
<rect x="1701.5" y="326.5" width="6" height="11.0" fill="url(#cg)"/>
<line x1="1713.5" y1="304" x2="1713.5" y2="355"/>
<rect x="1710.5" y="307.5" width="6" height="17.0" fill="url(#cg)"/>
<line x1="1721.5" y1="294" x2="1721.5" y2="334"/>
<rect x="1718.5" y="307.5" width="6" height="11.0" fill="url(#cr)"/>
<line x1="1730.5" y1="253" x2="1730.5" y2="322"/>
<rect x="1727.5" y="254.5" width="6" height="65.0" fill="url(#cg)"/>
<line x1="1739.5" y1="251" x2="1739.5" y2="298"/>
<rect x="1736.5" y="252.5" width="6" height="38.0" fill="url(#cr)"/>
<line x1="1748.5" y1="253" x2="1748.5" y2="299"/>
<rect x="1745.5" y="262.5" width="6" height="28.0" fill="url(#cg)"/>
<line x1="1757.5" y1="250" x2="1757.5" y2="278"/>
<rect x="1754.5" y="260.5" width="6" height="5.0" fill="url(#cr)"/>
<line x1="1766.5" y1="257" x2="1766.5" y2="283"/>
<rect x="1763.5" y="258.5" width="6" height="21.0" fill="url(#cr)"/>
</g>
<polyline points="680.8,378.3 684.3,376.8 687.9,375.2 691.4,373.6 695.0,372.1 698.5,370.8 701.7,369.7 704.9,368.7 708.1,367.8 711.3,366.9 714.5,366.0 717.7,365.1 720.9,364.1 724.1,362.9 727.5,361.1 731.0,358.8 734.4,357.0 737.5,355.8 740.7,354.6 743.8,353.5 746.9,352.5 750.1,351.5 753.2,350.5 756.3,349.5 759.5,348.6 762.6,347.7 765.7,346.9 768.8,346.4 771.8,345.8 774.9,345.3 778.0,344.5 781.0,343.5 784.0,342.5 787.0,341.3 790.0,340.1 793.0,339.0 796.0,338.1 799.6,337.2 803.2,336.5 806.7,335.8 810.3,335.1 813.9,334.3 817.1,333.4 820.3,332.3 823.5,331.3 826.7,330.4 830.0,329.6 833.4,328.9 836.7,328.1 840.0,327.4 843.3,326.7 846.7,326.0 850.0,325.3 853.0,324.6 856.1,323.8 859.1,323.0 862.2,322.3 865.2,321.6 868.8,320.9 872.4,320.3 875.9,319.7 879.5,319.1 883.1,318.6 886.5,318.1 889.9,317.6 893.2,317.2 896.6,316.7 900.0,316.3 903.3,315.9 906.5,315.4 909.8,315.0 913.0,314.6 916.3,314.2 919.4,313.9 922.6,313.6 925.7,313.4 928.9,313.1 932.0,312.8 935.2,312.5 938.3,312.0 941.5,311.4 944.6,310.7 947.8,310.0 950.9,309.2 954.1,308.4 957.2,307.6 960.4,306.9 963.4,306.3 966.4,305.6 969.5,305.0 972.5,304.4 975.5,303.8 978.5,303.2 981.5,302.6 984.5,302.1 987.6,301.5 990.6,300.9 993.6,300.3 996.9,299.6 1000.2,299.0 1003.5,298.3 1006.8,297.7 1010.1,297.0 1013.4,296.4 1016.7,295.8 1020.0,295.3 1023.0,294.9 1026.0,294.5 1029.0,294.1 1032.0,293.8 1035.1,293.5 1038.1,293.1 1041.1,292.8 1044.1,292.4 1047.1,292.0 1050.1,291.6 1053.1,291.1 1056.2,290.7 1059.2,290.2 1062.2,289.8 1065.2,289.3 1068.2,288.8 1071.2,288.3 1074.2,287.8 1077.2,287.3 1080.2,286.8 1083.3,286.2 1086.3,285.7 1089.3,285.2 1092.3,284.7 1095.3,284.2 1098.3,283.8 1101.3,283.3 1104.3,282.8 1107.4,282.4 1110.4,282.0 1113.4,281.5 1116.4,281.1 1119.4,280.7 1122.4,280.3 1125.4,279.9 1128.5,279.6 1131.5,279.2 1134.5,278.8 1137.5,278.4 1140.5,278.0 1143.5,277.6 1146.5,277.1 1149.5,276.6 1152.5,276.1 1155.6,275.6 1158.6,275.1 1161.6,274.7 1164.6,274.3 1167.8,273.9 1170.9,273.6 1174.1,273.4 1177.3,273.1 1180.5,272.9 1183.7,272.6 1186.8,272.3 1190.0,272.0 1193.0,271.6 1196.0,271.2 1199.0,270.8 1202.1,270.3 1205.1,269.9 1208.1,269.5 1211.1,269.1 1214.3,268.8 1217.4,268.5 1220.6,268.2 1223.7,267.9 1226.9,267.6 1230.1,267.3 1233.2,267.1 1236.4,266.8 1239.5,266.6 1242.7,266.3 1245.9,266.0 1249.0,265.8 1252.2,265.5 1255.3,265.3 1258.5,265.0 1261.7,264.8 1264.8,264.6 1268.0,264.3 1271.1,264.1 1274.3,263.8 1277.5,263.5 1280.6,263.3 1283.8,263.0 1286.9,262.8 1290.1,262.5 1293.3,262.2 1296.4,262.0 1299.6,261.7 1302.7,261.4 1305.9,261.1 1309.1,260.8 1312.2,260.5 1315.4,260.2 1318.6,259.9 1321.8,259.5 1324.9,259.2 1328.1,258.9 1331.3,258.6 1334.4,258.2 1337.6,257.9 1340.8,257.6 1344.0,257.2 1347.2,256.8 1350.4,256.5 1353.6,256.1 1356.8,255.8 1360.0,255.4 1363.0,255.1 1366.0,254.7 1369.0,254.3 1372.1,254.0 1375.1,253.7 1378.1,253.4 1381.2,253.2 1384.3,253.0 1387.4,252.9 1390.5,252.8 1393.6,252.6 1396.7,252.4 1399.8,252.1 1402.9,251.7 1406.0,251.2 1409.1,250.6 1412.1,250.0 1415.2,249.4 1418.3,248.9 1421.4,248.5 1424.7,248.2 1428.0,248.0 1431.3,247.8 1434.7,247.6 1438.0,247.5 1441.3,247.2 1444.3,246.9 1447.3,246.6 1450.3,246.2 1453.3,245.8 1456.4,245.5 1459.4,245.1 1462.4,244.7 1465.4,244.3 1468.4,244.0 1471.6,243.6 1474.7,243.3 1477.9,242.9 1481.1,242.6 1484.2,242.2 1487.4,241.9 1490.5,241.6 1493.7,241.3 1497.0,241.0 1500.3,240.8 1503.7,240.5 1507.0,240.3 1510.3,240.1 1513.6,240.0 1517.2,239.9 1520.8,239.9 1524.5,239.9 1528.1,240.0 1531.4,240.2 1534.7,240.5 1537.9,240.7 1541.2,241.0 1544.5,241.1 1547.9,241.1 1551.2,241.0 1554.6,240.8 1557.9,240.6 1561.3,240.4 1564.3,240.2 1567.3,239.9 1570.3,239.7 1573.3,239.4 1576.4,239.1 1579.4,238.9 1582.4,238.6 1585.4,238.4 1588.4,238.2 1591.4,238.0 1594.4,237.8 1597.5,237.7 1600.5,237.5 1603.5,237.4 1606.5,237.3 1609.5,237.2 1612.5,237.1 1615.5,237.1 1618.5,237.1 1621.5,237.1 1624.6,237.1 1627.6,237.2 1630.6,237.2 1633.6,237.2" fill="none" stroke="#9a9aff" stroke-width="2.0" stroke-linejoin="round" stroke-linecap="round" />
<polyline points="1528.1,240.4 1545.5,240.6" fill="none" stroke="#000" stroke-width="2.2" stroke-linejoin="round" stroke-linecap="round" stroke-linecap="butt"/>
<polyline points="1633.6,230.8 1633.6,237.3 1668.0,237.3 1677.0,238.6 1690.0,237.9 1714.1,238.2 1721.5,239.6 1748.5,239.6 1757.5,240.6 1766.3,240.6" fill="none" stroke="#000" stroke-width="2.2" stroke-linejoin="round" stroke-linecap="round" />
<polyline points="0.0,282.4 3.0,280.5 6.3,278.4 9.6,276.3 12.9,274.2 16.1,272.2 19.4,270.1 22.7,268.2 26.0,266.4 29.0,264.9 32.0,263.4 35.0,262.1 38.0,260.7 41.0,259.4 44.0,258.2 47.0,256.9 50.0,255.6 53.0,254.3 56.0,252.9 59.0,251.6 62.0,250.2 65.0,248.8 68.0,247.5 71.0,246.1 74.0,244.8 77.0,243.5 80.0,242.3 83.4,241.0 86.8,239.8 90.2,238.7 93.6,237.7 97.0,236.7 100.0,236.0 103.0,235.6 106.0,235.3" fill="none" stroke="#10a010" stroke-width="2.1" stroke-linejoin="round" stroke-linecap="round" />
<polyline points="106.0,235.3 110.2,235.4 114.5,235.8 118.8,236.5 123.0,237.3 126.0,237.7 129.0,238.1 132.0,238.5 135.0,238.8 138.0,239.2 141.0,239.6 144.0,240.1 147.0,240.7 150.0,240.9" fill="none" stroke="#ff1020" stroke-width="2.1" stroke-linejoin="round" stroke-linecap="round" />
<polyline points="150.0,240.9 153.0,240.5 156.0,239.8 159.0,239.0 163.0,238.1 167.0,237.3 170.7,236.9 174.3,236.6 178.0,236.3 181.5,236.2 185.0,236.1" fill="none" stroke="#10a010" stroke-width="2.1" stroke-linejoin="round" stroke-linecap="round" />
<polyline points="185.0,236.1 188.0,236.1 191.0,236.1 194.0,236.1" fill="none" stroke="#ff1020" stroke-width="2.1" stroke-linejoin="round" stroke-linecap="round" />
<polyline points="194.0,236.1 197.2,236.1 200.3,236.1 203.5,236.2" fill="none" stroke="#10a010" stroke-width="2.1" stroke-linejoin="round" stroke-linecap="round" />
<polyline points="203.5,236.2 207.8,236.7 212.0,237.6 215.1,238.4 218.3,239.2 221.4,240.1 224.6,241.0 227.7,241.9 230.8,242.7 233.9,243.6 236.9,244.5 240.0,245.3 243.1,246.0 246.2,246.6 249.3,246.8 252.4,246.6 255.5,246.6 258.7,246.9 261.9,247.3 265.2,247.7 268.4,248.2 271.6,248.9 274.7,249.7 277.8,250.6 280.9,251.7 283.9,252.7 287.0,253.7 290.1,254.6 293.2,255.4 296.3,256.0 299.4,256.6 302.4,257.3 305.5,258.0 308.6,258.8 311.7,259.8 314.7,260.9 317.8,262.1 320.9,263.3 323.9,264.5 327.0,265.5 330.2,266.4 333.5,267.1 336.8,267.8 340.0,268.7 343.0,269.7 346.0,270.7 349.1,271.7 352.1,272.8 355.1,273.9 358.1,275.0 361.1,276.1 364.1,277.3 367.1,278.5 370.1,279.7 373.1,280.8 376.1,281.7 379.1,282.4 382.1,282.9 385.1,283.4 388.2,283.8 391.2,284.3 394.2,284.9 397.2,285.7 400.2,286.6 403.2,287.5 406.3,288.5 409.3,289.5 412.3,290.4 415.3,291.3 418.3,292.2 421.4,293.1 424.4,294.1 427.4,294.9 430.4,295.8 434.0,296.7 437.6,297.6 441.2,298.5 444.8,299.6 448.4,300.9 452.0,301.8 455.6,302.3 459.3,302.5 462.9,302.7 468.3,302.7" fill="none" stroke="#ff1020" stroke-width="2.1" stroke-linejoin="round" stroke-linecap="round" />
<polyline points="468.3,302.7 471.3,302.6 474.4,302.4 477.4,302.1 481.0,301.4 484.6,300.7 488.2,300.0 491.8,299.6 495.4,299.4 499.0,299.2 503.6,299.2" fill="none" stroke="#10a010" stroke-width="2.1" stroke-linejoin="round" stroke-linecap="round" />
<polyline points="503.6,299.2 508.0,299.2 512.4,299.3" fill="none" stroke="#ff1020" stroke-width="2.1" stroke-linejoin="round" stroke-linecap="round" />
<polyline points="512.4,299.3 515.6,299.4 518.8,299.5 522.0,299.4 525.6,299.1 529.2,298.7 532.9,298.3 536.5,297.7 539.9,297.1 543.3,296.5 546.6,295.7 550.0,295.0 553.4,294.1 556.4,293.3 559.4,292.3 562.4,291.2 565.4,290.0 568.8,288.5 572.2,287.0 575.5,285.3 578.9,283.6 582.3,281.6 585.7,279.4 589.1,276.9 592.4,274.3 595.8,271.7 599.2,269.3 602.8,266.9 606.4,264.7 610.0,262.6 613.6,260.4 617.2,258.3 620.9,256.3 624.5,254.2 628.1,251.9 631.7,249.3 635.3,246.6 638.9,243.8 642.5,241.1 646.1,238.5 649.8,236.0 653.4,233.5 657.0,231.0 660.6,228.5 664.2,225.9 667.8,223.4 671.4,221.1 675.7,219.0 680.0,217.0 683.6,214.6 687.2,212.0 690.8,209.5 694.1,207.3 697.3,205.0 700.6,202.8 703.8,200.7 707.1,198.7 710.4,196.9 713.6,195.3 716.9,193.8 720.1,192.3 723.4,190.7 726.4,189.0 729.4,187.3 732.4,185.7 735.7,184.1 739.0,182.5 742.3,181.0 745.7,179.5 749.0,178.0 752.3,176.6 755.6,175.3 758.8,174.1 762.1,172.9 765.3,171.6 768.6,170.3 771.8,168.8 775.1,167.2 778.3,165.6 781.6,164.0 784.8,162.5 788.4,161.1 792.1,159.9 795.7,158.9 799.3,158.0 802.9,157.1 806.5,156.4 810.1,155.7 813.8,155.1 817.4,154.6 821.0,154.0 824.6,153.4 828.2,152.8 831.8,152.2 835.4,151.7 838.6,151.3 841.8,151.0 844.9,150.7 848.1,150.4 852.0,150.1 856.0,149.8 860.2,149.5 864.5,149.2 867.8,149.1 871.1,149.0 874.4,149.2" fill="none" stroke="#10a010" stroke-width="2.1" stroke-linejoin="round" stroke-linecap="round" />
<polyline points="874.4,149.2 878.3,149.7 882.2,150.4 886.1,151.2 889.1,151.9 892.1,152.6 895.2,153.3 898.2,154.1 901.2,155.0 904.2,155.9 907.2,157.0 910.2,158.1 913.2,159.4 916.3,160.6 919.3,161.9 922.3,163.1 925.3,164.3 928.3,165.4 931.3,166.6 934.4,167.7 937.4,168.8 940.4,169.8 944.0,171.0 947.6,172.1 951.2,173.1 954.8,174.0 957.8,174.7 960.8,175.4 963.8,176.0 966.9,176.6 969.9,177.1 972.9,177.6 975.9,178.0 978.9,178.3 982.0,178.6 985.0,178.8 988.0,179.1 991.0,179.4 994.2,179.8 997.5,180.1 1000.7,180.5 1004.0,181.0 1007.2,181.6 1010.8,182.5 1014.5,183.8 1018.1,185.2 1021.1,186.7 1024.2,188.5 1027.2,190.0 1030.8,191.3 1034.5,192.3 1038.1,193.3 1041.7,194.8 1044.7,196.4 1047.7,198.2 1050.8,200.2 1053.8,202.2 1056.8,204.0 1059.8,205.7 1062.8,207.1 1065.8,208.3 1068.8,209.5 1071.8,210.6 1074.8,211.7 1077.8,212.9 1081.3,214.3 1084.8,215.8 1088.4,217.2 1091.9,218.8 1095.4,220.6 1098.6,222.5 1101.9,224.6 1105.1,226.8 1108.4,229.0 1111.6,231.0 1114.7,232.8 1117.9,234.4 1121.0,236.0 1124.1,237.6 1127.3,239.1 1130.4,240.6 1133.9,242.2 1137.3,243.7 1140.8,245.2 1144.2,246.5 1147.7,247.8 1151.1,248.9 1154.5,249.8 1157.8,250.7 1161.2,251.6 1164.6,252.7 1168.2,254.0 1171.8,255.5 1175.4,257.0 1179.0,258.7 1182.7,260.7 1186.3,262.9 1190.0,264.9 1193.2,266.4 1196.3,267.7 1199.4,268.9 1202.6,270.1 1205.9,271.3 1209.2,272.5 1212.5,273.6 1215.9,274.7 1219.2,275.8 1222.5,276.7 1225.8,277.5 1229.0,278.0 1232.1,278.4 1235.3,278.5 1238.5,278.7 1241.6,278.9 1244.8,279.2 1248.3,279.8 1251.9,280.6 1255.4,281.4 1259.0,282.1 1262.5,282.6" fill="none" stroke="#ff1020" stroke-width="2.1" stroke-linejoin="round" stroke-linecap="round" />
<polyline points="1262.5,282.6 1267.0,282.2 1271.4,281.5 1274.4,281.2 1277.4,281.0 1280.4,281.1" fill="none" stroke="#10a010" stroke-width="2.1" stroke-linejoin="round" stroke-linecap="round" />
<polyline points="1280.4,281.1 1283.8,281.5 1287.2,282.0 1290.7,282.7 1294.1,283.2 1297.5,283.6 1300.7,283.5 1303.8,283.1 1307.0,283.2 1310.4,284.2 1313.8,285.6 1317.3,287.1 1320.7,288.5 1324.1,289.6 1327.5,290.6 1330.8,291.6 1334.2,292.7 1337.6,293.8 1340.8,295.1 1343.9,296.5 1347.0,297.8 1350.2,299.0 1353.5,299.8 1356.7,300.3 1360.0,300.9 1363.5,301.6 1367.0,302.4 1370.5,303.2 1374.0,303.9 1377.5,304.5 1381.1,305.1 1384.7,305.6 1388.2,306.1 1391.8,306.3 1395.4,306.3" fill="none" stroke="#ff1020" stroke-width="2.1" stroke-linejoin="round" stroke-linecap="round" />
<polyline points="1395.4,306.3 1398.8,305.9 1402.2,305.1 1405.6,304.1 1409.0,303.2 1412.4,302.4 1415.4,301.9 1418.4,301.4 1421.5,300.9 1424.5,300.5 1427.5,300.0 1430.5,299.6 1433.5,299.2 1436.5,298.8 1439.5,298.4 1442.6,298.0 1445.6,297.5 1448.6,296.9 1451.8,296.1 1454.9,295.0 1458.0,293.9 1461.2,292.8 1464.8,291.6 1468.5,290.4 1472.1,289.3 1475.7,288.3 1478.8,287.5 1481.9,286.9 1485.0,286.2 1488.1,285.6 1491.2,284.9 1494.3,284.2 1497.4,283.4 1500.5,282.5 1503.6,281.6 1506.7,280.6 1509.7,279.6 1512.8,278.5 1515.9,277.5 1519.0,276.5 1522.0,275.5 1525.0,274.5 1528.0,273.5 1531.0,272.5 1534.0,271.5 1537.0,270.5 1540.0,269.6 1543.5,268.6 1547.0,267.8 1550.6,266.9 1554.1,265.7 1557.5,264.2 1560.9,262.4 1564.2,260.6 1567.6,258.8 1571.0,257.2 1574.2,255.9 1577.4,254.7 1580.6,253.6 1583.8,252.4 1587.0,251.3 1590.2,250.0 1593.2,248.6 1596.2,247.1 1599.3,245.5 1602.3,244.0 1605.6,242.4 1608.9,240.9 1612.2,239.4 1615.5,238.0 1618.6,236.8 1621.8,235.6 1624.9,234.4 1628.1,233.4 1631.2,232.4 1634.2,231.6 1637.2,231.0 1640.3,230.5 1643.3,230.0 1646.3,229.6 1649.3,229.3 1652.3,229.1 1655.3,229.0 1658.5,228.9 1661.6,228.9 1664.8,228.9 1668.0,228.9 1671.2,228.9 1674.3,229.0 1677.5,229.0" fill="none" stroke="#10a010" stroke-width="2.1" stroke-linejoin="round" stroke-linecap="round" />
<polyline points="1677.5,229.0 1680.5,229.0 1683.6,229.1 1686.6,229.3 1689.6,229.7 1692.7,230.1 1695.7,230.6 1698.7,231.0 1704.1,231.1 1707.4,231.1 1710.8,231.0 1714.1,231.1 1717.8,231.6 1721.5,232.1" fill="none" stroke="#ff1020" stroke-width="2.1" stroke-linejoin="round" stroke-linecap="round" />
<polyline points="1721.5,232.1 1724.5,232.0 1727.6,231.7 1730.6,231.5" fill="none" stroke="#10a010" stroke-width="2.1" stroke-linejoin="round" stroke-linecap="round" />
<polyline points="1730.6,231.5 1735.0,231.4 1739.4,231.3" fill="none" stroke="#ff1020" stroke-width="2.1" stroke-linejoin="round" stroke-linecap="round" />
<polyline points="1739.4,231.3 1742.4,231.2 1745.5,231.1 1748.5,231.1" fill="none" stroke="#10a010" stroke-width="2.1" stroke-linejoin="round" stroke-linecap="round" />
<polyline points="1748.5,231.1 1751.5,231.4 1754.5,231.8 1757.5,232.2 1761.9,232.7 1766.3,233.3 1766.3,233.3" fill="none" stroke="#ff1020" stroke-width="2.1" stroke-linejoin="round" stroke-linecap="round" />
<ellipse cx="1757.2" cy="794.6" rx="35.7" ry="40.4" fill="#ecdfca" stroke="#000" stroke-width="1"/>
<rect x="5.5" y="719.5" width="6" height="1.0" fill="url(#hg)" stroke="#18a018" stroke-width="1"/>
<rect x="14.5" y="714.5" width="6" height="6.0" fill="url(#hg)" stroke="#18a018" stroke-width="1"/>
<rect x="23.5" y="709.5" width="6" height="11.0" fill="url(#hg)" stroke="#18a018" stroke-width="1"/>
<rect x="32.5" y="715.5" width="6" height="5.0" fill="url(#hg)" stroke="#18a018" stroke-width="1"/>
<rect x="41.5" y="720.5" width="6" height="3.0" fill="url(#hr)" stroke="#a82424" stroke-width="1"/>
<rect x="50.5" y="720.5" width="6" height="5.0" fill="url(#hr)" stroke="#a82424" stroke-width="1"/>
<rect x="67.5" y="720.5" width="6" height="3.0" fill="url(#hr)" stroke="#a82424" stroke-width="1"/>
<rect x="76.5" y="720.5" width="6" height="10.0" fill="url(#hr)" stroke="#a82424" stroke-width="1"/>
<rect x="85.5" y="720.5" width="6" height="10.0" fill="url(#hr)" stroke="#a82424" stroke-width="1"/>
<rect x="94.5" y="720.5" width="6" height="11.0" fill="url(#hr)" stroke="#a82424" stroke-width="1"/>
<rect x="103.5" y="720.5" width="6" height="16.0" fill="url(#hr)" stroke="#a82424" stroke-width="1"/>
<rect x="111.5" y="720.5" width="6" height="26.0" fill="url(#hr)" stroke="#a82424" stroke-width="1"/>
<rect x="120.5" y="720.5" width="6" height="30.0" fill="url(#hr)" stroke="#a82424" stroke-width="1"/>
<rect x="129.5" y="720.5" width="6" height="48.0" fill="url(#hr)" stroke="#a82424" stroke-width="1"/>
<rect x="138.5" y="720.5" width="6" height="50.0" fill="url(#hr)" stroke="#a82424" stroke-width="1"/>
<rect x="147.5" y="720.5" width="6" height="42.0" fill="url(#hr)" stroke="#a82424" stroke-width="1"/>
<rect x="156.5" y="720.5" width="6" height="35.0" fill="url(#hr)" stroke="#a82424" stroke-width="1"/>
<rect x="164.5" y="720.5" width="6" height="32.0" fill="url(#hr)" stroke="#a82424" stroke-width="1"/>
<rect x="173.5" y="720.5" width="6" height="28.0" fill="url(#hr)" stroke="#a82424" stroke-width="1"/>
<rect x="182.5" y="720.5" width="6" height="22.0" fill="url(#hr)" stroke="#a82424" stroke-width="1"/>
<rect x="191.5" y="720.5" width="6" height="21.0" fill="url(#hr)" stroke="#a82424" stroke-width="1"/>
<rect x="200.5" y="720.5" width="6" height="19.0" fill="url(#hr)" stroke="#a82424" stroke-width="1"/>
<rect x="209.5" y="720.5" width="6" height="25.0" fill="url(#hr)" stroke="#a82424" stroke-width="1"/>
<rect x="217.5" y="720.5" width="6" height="37.0" fill="url(#hr)" stroke="#a82424" stroke-width="1"/>
<rect x="226.5" y="720.5" width="6" height="41.0" fill="url(#hr)" stroke="#a82424" stroke-width="1"/>
<rect x="235.5" y="720.5" width="6" height="55.0" fill="url(#hr)" stroke="#a82424" stroke-width="1"/>
<rect x="244.5" y="720.5" width="6" height="48.0" fill="url(#hr)" stroke="#a82424" stroke-width="1"/>
<rect x="253.5" y="720.5" width="6" height="35.0" fill="url(#hr)" stroke="#a82424" stroke-width="1"/>
<rect x="261.5" y="720.5" width="6" height="33.0" fill="url(#hr)" stroke="#a82424" stroke-width="1"/>
<rect x="270.5" y="720.5" width="6" height="35.0" fill="url(#hr)" stroke="#a82424" stroke-width="1"/>
<rect x="279.5" y="720.5" width="6" height="35.0" fill="url(#hr)" stroke="#a82424" stroke-width="1"/>
<rect x="288.5" y="720.5" width="6" height="33.0" fill="url(#hr)" stroke="#a82424" stroke-width="1"/>
<rect x="297.5" y="720.5" width="6" height="22.0" fill="url(#hr)" stroke="#a82424" stroke-width="1"/>
<rect x="306.5" y="720.5" width="6" height="16.0" fill="url(#hr)" stroke="#a82424" stroke-width="1"/>
<rect x="314.5" y="720.5" width="6" height="6.0" fill="url(#hr)" stroke="#a82424" stroke-width="1"/>
<rect x="323.5" y="715.5" width="6" height="5.0" fill="url(#hg)" stroke="#18a018" stroke-width="1"/>
<rect x="332.5" y="707.5" width="6" height="13.0" fill="url(#hg)" stroke="#18a018" stroke-width="1"/>
<rect x="341.5" y="707.5" width="6" height="13.0" fill="url(#hg)" stroke="#18a018" stroke-width="1"/>
<rect x="350.5" y="701.5" width="6" height="19.0" fill="url(#hg)" stroke="#18a018" stroke-width="1"/>
<rect x="359.5" y="696.5" width="6" height="24.0" fill="url(#hg)" stroke="#18a018" stroke-width="1"/>
<rect x="367.5" y="688.5" width="6" height="32.0" fill="url(#hg)" stroke="#18a018" stroke-width="1"/>
<rect x="376.5" y="685.5" width="6" height="35.0" fill="url(#hg)" stroke="#18a018" stroke-width="1"/>
<rect x="385.5" y="683.5" width="6" height="37.0" fill="url(#hg)" stroke="#18a018" stroke-width="1"/>
<rect x="394.5" y="684.5" width="6" height="36.0" fill="url(#hg)" stroke="#18a018" stroke-width="1"/>
<rect x="403.5" y="686.5" width="6" height="34.0" fill="url(#hg)" stroke="#18a018" stroke-width="1"/>
<rect x="412.5" y="689.5" width="6" height="31.0" fill="url(#hg)" stroke="#18a018" stroke-width="1"/>
<rect x="420.5" y="691.5" width="6" height="29.0" fill="url(#hg)" stroke="#18a018" stroke-width="1"/>
<rect x="429.5" y="693.5" width="6" height="27.0" fill="url(#hg)" stroke="#18a018" stroke-width="1"/>
<rect x="438.5" y="696.5" width="6" height="24.0" fill="url(#hg)" stroke="#18a018" stroke-width="1"/>
<rect x="447.5" y="698.5" width="6" height="22.0" fill="url(#hg)" stroke="#18a018" stroke-width="1"/>
<rect x="456.5" y="693.5" width="6" height="27.0" fill="url(#hg)" stroke="#18a018" stroke-width="1"/>
<rect x="465.5" y="691.5" width="6" height="29.0" fill="url(#hg)" stroke="#18a018" stroke-width="1"/>
<rect x="473.5" y="687.5" width="6" height="33.0" fill="url(#hg)" stroke="#18a018" stroke-width="1"/>
<rect x="482.5" y="686.5" width="6" height="34.0" fill="url(#hg)" stroke="#18a018" stroke-width="1"/>
<rect x="491.5" y="687.5" width="6" height="33.0" fill="url(#hg)" stroke="#18a018" stroke-width="1"/>
<rect x="500.5" y="693.5" width="6" height="27.0" fill="url(#hg)" stroke="#18a018" stroke-width="1"/>
<rect x="509.5" y="701.5" width="6" height="19.0" fill="url(#hg)" stroke="#18a018" stroke-width="1"/>
<rect x="518.5" y="703.5" width="6" height="17.0" fill="url(#hg)" stroke="#18a018" stroke-width="1"/>
<rect x="526.5" y="705.5" width="6" height="15.0" fill="url(#hg)" stroke="#18a018" stroke-width="1"/>
<rect x="535.5" y="699.5" width="6" height="21.0" fill="url(#hg)" stroke="#18a018" stroke-width="1"/>
<rect x="544.5" y="700.5" width="6" height="20.0" fill="url(#hg)" stroke="#18a018" stroke-width="1"/>
<rect x="553.5" y="695.5" width="6" height="25.0" fill="url(#hg)" stroke="#18a018" stroke-width="1"/>
<rect x="562.5" y="693.5" width="6" height="27.0" fill="url(#hg)" stroke="#18a018" stroke-width="1"/>
<rect x="571.5" y="691.5" width="6" height="29.0" fill="url(#hg)" stroke="#18a018" stroke-width="1"/>
<rect x="579.5" y="692.5" width="6" height="28.0" fill="url(#hg)" stroke="#18a018" stroke-width="1"/>
<rect x="588.5" y="685.5" width="6" height="35.0" fill="url(#hg)" stroke="#18a018" stroke-width="1"/>
<rect x="597.5" y="680.5" width="6" height="40.0" fill="url(#hg)" stroke="#18a018" stroke-width="1"/>
<rect x="606.5" y="679.5" width="6" height="41.0" fill="url(#hg)" stroke="#18a018" stroke-width="1"/>
<rect x="615.5" y="680.5" width="6" height="40.0" fill="url(#hg)" stroke="#18a018" stroke-width="1"/>
<rect x="624.5" y="692.5" width="6" height="28.0" fill="url(#hg)" stroke="#18a018" stroke-width="1"/>
<rect x="632.5" y="703.5" width="6" height="17.0" fill="url(#hg)" stroke="#18a018" stroke-width="1"/>
<rect x="641.5" y="708.5" width="6" height="12.0" fill="url(#hg)" stroke="#18a018" stroke-width="1"/>
<rect x="650.5" y="705.5" width="6" height="15.0" fill="url(#hg)" stroke="#18a018" stroke-width="1"/>
<rect x="659.5" y="703.5" width="6" height="17.0" fill="url(#hg)" stroke="#18a018" stroke-width="1"/>
<rect x="668.5" y="699.5" width="6" height="21.0" fill="url(#hg)" stroke="#18a018" stroke-width="1"/>
<rect x="677.5" y="703.5" width="6" height="17.0" fill="url(#hg)" stroke="#18a018" stroke-width="1"/>
<rect x="685.5" y="708.5" width="6" height="12.0" fill="url(#hg)" stroke="#18a018" stroke-width="1"/>
<rect x="694.5" y="708.5" width="6" height="12.0" fill="url(#hg)" stroke="#18a018" stroke-width="1"/>
<rect x="703.5" y="713.5" width="6" height="7.0" fill="url(#hg)" stroke="#18a018" stroke-width="1"/>
<rect x="712.5" y="719.5" width="6" height="1.0" fill="url(#hg)" stroke="#18a018" stroke-width="1"/>
<rect x="721.5" y="720.5" width="6" height="8.0" fill="url(#hr)" stroke="#a82424" stroke-width="1"/>
<rect x="729.5" y="720.5" width="6" height="7.0" fill="url(#hr)" stroke="#a82424" stroke-width="1"/>
<rect x="738.5" y="720.5" width="6" height="11.0" fill="url(#hr)" stroke="#a82424" stroke-width="1"/>
<rect x="747.5" y="720.5" width="6" height="14.0" fill="url(#hr)" stroke="#a82424" stroke-width="1"/>
<rect x="756.5" y="720.5" width="6" height="25.0" fill="url(#hr)" stroke="#a82424" stroke-width="1"/>
<rect x="765.5" y="720.5" width="6" height="35.0" fill="url(#hr)" stroke="#a82424" stroke-width="1"/>
<rect x="774.5" y="720.5" width="6" height="34.0" fill="url(#hr)" stroke="#a82424" stroke-width="1"/>
<rect x="782.5" y="720.5" width="6" height="35.0" fill="url(#hr)" stroke="#a82424" stroke-width="1"/>
<rect x="791.5" y="720.5" width="6" height="36.0" fill="url(#hr)" stroke="#a82424" stroke-width="1"/>
<rect x="800.5" y="720.5" width="6" height="54.0" fill="url(#hr)" stroke="#a82424" stroke-width="1"/>
<rect x="809.5" y="720.5" width="6" height="65.0" fill="url(#hr)" stroke="#a82424" stroke-width="1"/>
<rect x="818.5" y="720.5" width="6" height="68.0" fill="url(#hr)" stroke="#a82424" stroke-width="1"/>
<rect x="827.5" y="720.5" width="6" height="60.0" fill="url(#hr)" stroke="#a82424" stroke-width="1"/>
<rect x="835.5" y="720.5" width="6" height="55.0" fill="url(#hr)" stroke="#a82424" stroke-width="1"/>
<rect x="844.5" y="720.5" width="6" height="64.0" fill="url(#hr)" stroke="#a82424" stroke-width="1"/>
<rect x="853.5" y="720.5" width="6" height="68.0" fill="url(#hr)" stroke="#a82424" stroke-width="1"/>
<rect x="862.5" y="720.5" width="6" height="69.0" fill="url(#hr)" stroke="#a82424" stroke-width="1"/>
<rect x="871.5" y="720.5" width="6" height="67.0" fill="url(#hr)" stroke="#a82424" stroke-width="1"/>
<rect x="880.5" y="720.5" width="6" height="78.0" fill="url(#hr)" stroke="#a82424" stroke-width="1"/>
<rect x="888.5" y="720.5" width="6" height="87.0" fill="url(#hr)" stroke="#a82424" stroke-width="1"/>
<rect x="897.5" y="720.5" width="6" height="83.0" fill="url(#hr)" stroke="#a82424" stroke-width="1"/>
<rect x="906.5" y="720.5" width="6" height="84.0" fill="url(#hr)" stroke="#a82424" stroke-width="1"/>
<rect x="915.5" y="720.5" width="6" height="91.0" fill="url(#hr)" stroke="#a82424" stroke-width="1"/>
<rect x="924.5" y="720.5" width="6" height="87.0" fill="url(#hr)" stroke="#a82424" stroke-width="1"/>
<rect x="933.5" y="720.5" width="6" height="63.0" fill="url(#hr)" stroke="#a82424" stroke-width="1"/>
<rect x="941.5" y="720.5" width="6" height="41.0" fill="url(#hr)" stroke="#a82424" stroke-width="1"/>
<rect x="950.5" y="720.5" width="6" height="21.0" fill="url(#hr)" stroke="#a82424" stroke-width="1"/>
<rect x="959.5" y="705.5" width="6" height="15.0" fill="url(#hg)" stroke="#18a018" stroke-width="1"/>
<rect x="968.5" y="677.5" width="6" height="43.0" fill="url(#hg)" stroke="#18a018" stroke-width="1"/>
<rect x="977.5" y="661.5" width="6" height="59.0" fill="url(#hg)" stroke="#18a018" stroke-width="1"/>
<rect x="986.5" y="652.5" width="6" height="68.0" fill="url(#hg)" stroke="#18a018" stroke-width="1"/>
<rect x="994.5" y="646.5" width="6" height="74.0" fill="url(#hg)" stroke="#18a018" stroke-width="1"/>
<rect x="1003.5" y="643.5" width="6" height="77.0" fill="url(#hg)" stroke="#18a018" stroke-width="1"/>
<rect x="1012.5" y="657.5" width="6" height="63.0" fill="url(#hg)" stroke="#18a018" stroke-width="1"/>
<rect x="1021.5" y="680.5" width="6" height="40.0" fill="url(#hg)" stroke="#18a018" stroke-width="1"/>
<rect x="1030.5" y="691.5" width="6" height="29.0" fill="url(#hg)" stroke="#18a018" stroke-width="1"/>
<rect x="1039.5" y="699.5" width="6" height="21.0" fill="url(#hg)" stroke="#18a018" stroke-width="1"/>
<rect x="1047.5" y="716.5" width="6" height="4.0" fill="url(#hg)" stroke="#18a018" stroke-width="1"/>
<rect x="1056.5" y="720.5" width="6" height="5.0" fill="url(#hr)" stroke="#a82424" stroke-width="1"/>
<rect x="1065.5" y="717.5" width="6" height="3.0" fill="url(#hg)" stroke="#18a018" stroke-width="1"/>
<rect x="1074.5" y="718.5" width="6" height="2.0" fill="url(#hg)" stroke="#18a018" stroke-width="1"/>
<rect x="1083.5" y="715.5" width="6" height="5.0" fill="url(#hg)" stroke="#18a018" stroke-width="1"/>
<rect x="1092.5" y="715.5" width="6" height="5.0" fill="url(#hg)" stroke="#18a018" stroke-width="1"/>
<rect x="1100.5" y="720.5" width="6" height="12.0" fill="url(#hr)" stroke="#a82424" stroke-width="1"/>
<rect x="1109.5" y="720.5" width="6" height="17.0" fill="url(#hr)" stroke="#a82424" stroke-width="1"/>
<rect x="1118.5" y="720.5" width="6" height="7.0" fill="url(#hr)" stroke="#a82424" stroke-width="1"/>
<rect x="1136.5" y="718.5" width="6" height="2.0" fill="url(#hg)" stroke="#18a018" stroke-width="1"/>
<rect x="1144.5" y="714.5" width="6" height="6.0" fill="url(#hg)" stroke="#18a018" stroke-width="1"/>
<rect x="1153.5" y="716.5" width="6" height="4.0" fill="url(#hg)" stroke="#18a018" stroke-width="1"/>
<rect x="1162.5" y="717.5" width="6" height="3.0" fill="url(#hg)" stroke="#18a018" stroke-width="1"/>
<rect x="1171.5" y="720.5" width="6" height="4.0" fill="url(#hr)" stroke="#a82424" stroke-width="1"/>
<rect x="1180.5" y="720.5" width="6" height="16.0" fill="url(#hr)" stroke="#a82424" stroke-width="1"/>
<rect x="1189.5" y="720.5" width="6" height="22.0" fill="url(#hr)" stroke="#a82424" stroke-width="1"/>
<rect x="1197.5" y="720.5" width="6" height="21.0" fill="url(#hr)" stroke="#a82424" stroke-width="1"/>
<rect x="1206.5" y="720.5" width="6" height="21.0" fill="url(#hr)" stroke="#a82424" stroke-width="1"/>
<rect x="1215.5" y="720.5" width="6" height="16.0" fill="url(#hr)" stroke="#a82424" stroke-width="1"/>
<rect x="1224.5" y="720.5" width="6" height="10.0" fill="url(#hr)" stroke="#a82424" stroke-width="1"/>
<rect x="1233.5" y="720.5" width="6" height="5.0" fill="url(#hr)" stroke="#a82424" stroke-width="1"/>
<rect x="1242.5" y="720.5" width="6" height="7.0" fill="url(#hr)" stroke="#a82424" stroke-width="1"/>
<rect x="1250.5" y="720.5" width="6" height="14.0" fill="url(#hr)" stroke="#a82424" stroke-width="1"/>
<rect x="1259.5" y="720.5" width="6" height="21.0" fill="url(#hr)" stroke="#a82424" stroke-width="1"/>
<rect x="1268.5" y="720.5" width="6" height="14.0" fill="url(#hr)" stroke="#a82424" stroke-width="1"/>
<rect x="1277.5" y="720.5" width="6" height="10.0" fill="url(#hr)" stroke="#a82424" stroke-width="1"/>
<rect x="1295.5" y="712.5" width="6" height="8.0" fill="url(#hg)" stroke="#18a018" stroke-width="1"/>
<rect x="1303.5" y="703.5" width="6" height="17.0" fill="url(#hg)" stroke="#18a018" stroke-width="1"/>
<rect x="1312.5" y="697.5" width="6" height="23.0" fill="url(#hg)" stroke="#18a018" stroke-width="1"/>
<rect x="1321.5" y="689.5" width="6" height="31.0" fill="url(#hg)" stroke="#18a018" stroke-width="1"/>
<rect x="1330.5" y="681.5" width="6" height="39.0" fill="url(#hg)" stroke="#18a018" stroke-width="1"/>
<rect x="1339.5" y="677.5" width="6" height="43.0" fill="url(#hg)" stroke="#18a018" stroke-width="1"/>
<rect x="1348.5" y="682.5" width="6" height="38.0" fill="url(#hg)" stroke="#18a018" stroke-width="1"/>
<rect x="1356.5" y="680.5" width="6" height="40.0" fill="url(#hg)" stroke="#18a018" stroke-width="1"/>
<rect x="1365.5" y="681.5" width="6" height="39.0" fill="url(#hg)" stroke="#18a018" stroke-width="1"/>
<rect x="1374.5" y="692.5" width="6" height="28.0" fill="url(#hg)" stroke="#18a018" stroke-width="1"/>
<rect x="1383.5" y="692.5" width="6" height="28.0" fill="url(#hg)" stroke="#18a018" stroke-width="1"/>
<rect x="1392.5" y="693.5" width="6" height="27.0" fill="url(#hg)" stroke="#18a018" stroke-width="1"/>
<rect x="1401.5" y="684.5" width="6" height="36.0" fill="url(#hg)" stroke="#18a018" stroke-width="1"/>
<rect x="1409.5" y="677.5" width="6" height="43.0" fill="url(#hg)" stroke="#18a018" stroke-width="1"/>
<rect x="1418.5" y="673.5" width="6" height="47.0" fill="url(#hg)" stroke="#18a018" stroke-width="1"/>
<rect x="1427.5" y="672.5" width="6" height="48.0" fill="url(#hg)" stroke="#18a018" stroke-width="1"/>
<rect x="1436.5" y="675.5" width="6" height="45.0" fill="url(#hg)" stroke="#18a018" stroke-width="1"/>
<rect x="1445.5" y="678.5" width="6" height="42.0" fill="url(#hg)" stroke="#18a018" stroke-width="1"/>
<rect x="1454.5" y="684.5" width="6" height="36.0" fill="url(#hg)" stroke="#18a018" stroke-width="1"/>
<rect x="1462.5" y="689.5" width="6" height="31.0" fill="url(#hg)" stroke="#18a018" stroke-width="1"/>
<rect x="1471.5" y="689.5" width="6" height="31.0" fill="url(#hg)" stroke="#18a018" stroke-width="1"/>
<rect x="1480.5" y="693.5" width="6" height="27.0" fill="url(#hg)" stroke="#18a018" stroke-width="1"/>
<rect x="1489.5" y="697.5" width="6" height="23.0" fill="url(#hg)" stroke="#18a018" stroke-width="1"/>
<rect x="1498.5" y="702.5" width="6" height="18.0" fill="url(#hg)" stroke="#18a018" stroke-width="1"/>
<rect x="1507.5" y="704.5" width="6" height="16.0" fill="url(#hg)" stroke="#18a018" stroke-width="1"/>
<rect x="1515.5" y="713.5" width="6" height="7.0" fill="url(#hg)" stroke="#18a018" stroke-width="1"/>
<rect x="1524.5" y="720.5" width="6" height="3.0" fill="url(#hr)" stroke="#a82424" stroke-width="1"/>
<rect x="1533.5" y="720.5" width="6" height="16.0" fill="url(#hr)" stroke="#a82424" stroke-width="1"/>
<rect x="1542.5" y="720.5" width="6" height="27.0" fill="url(#hr)" stroke="#a82424" stroke-width="1"/>
<rect x="1551.5" y="720.5" width="6" height="19.0" fill="url(#hr)" stroke="#a82424" stroke-width="1"/>
<rect x="1560.5" y="720.5" width="6" height="9.0" fill="url(#hr)" stroke="#a82424" stroke-width="1"/>
<rect x="1568.5" y="720.5" width="6" height="7.0" fill="url(#hr)" stroke="#a82424" stroke-width="1"/>
<rect x="1577.5" y="720.5" width="6" height="6.0" fill="url(#hr)" stroke="#a82424" stroke-width="1"/>
<rect x="1586.5" y="720.5" width="6" height="8.0" fill="url(#hr)" stroke="#a82424" stroke-width="1"/>
<rect x="1595.5" y="720.5" width="6" height="5.0" fill="url(#hr)" stroke="#a82424" stroke-width="1"/>
<rect x="1604.5" y="720.5" width="6" height="13.0" fill="url(#hr)" stroke="#a82424" stroke-width="1"/>
<rect x="1612.5" y="720.5" width="6" height="25.0" fill="url(#hr)" stroke="#a82424" stroke-width="1"/>
<rect x="1621.5" y="720.5" width="6" height="28.0" fill="url(#hr)" stroke="#a82424" stroke-width="1"/>
<rect x="1630.5" y="720.5" width="6" height="30.0" fill="url(#hr)" stroke="#a82424" stroke-width="1"/>
<rect x="1639.5" y="720.5" width="6" height="41.0" fill="url(#hr)" stroke="#a82424" stroke-width="1"/>
<rect x="1648.5" y="720.5" width="6" height="54.0" fill="url(#hr)" stroke="#a82424" stroke-width="1"/>
<rect x="1657.5" y="720.5" width="6" height="61.0" fill="url(#hr)" stroke="#a82424" stroke-width="1"/>
<rect x="1665.5" y="720.5" width="6" height="62.0" fill="url(#hr)" stroke="#a82424" stroke-width="1"/>
<rect x="1674.5" y="720.5" width="6" height="56.0" fill="url(#hr)" stroke="#a82424" stroke-width="1"/>
<rect x="1683.5" y="720.5" width="6" height="50.0" fill="url(#hr)" stroke="#a82424" stroke-width="1"/>
<rect x="1692.5" y="720.5" width="6" height="53.0" fill="url(#hr)" stroke="#a82424" stroke-width="1"/>
<rect x="1701.5" y="720.5" width="6" height="49.0" fill="url(#hr)" stroke="#a82424" stroke-width="1"/>
<rect x="1710.5" y="720.5" width="6" height="40.0" fill="url(#hr)" stroke="#a82424" stroke-width="1"/>
<rect x="1718.5" y="720.5" width="6" height="34.0" fill="url(#hr)" stroke="#a82424" stroke-width="1"/>
<rect x="1727.5" y="720.5" width="6" height="13.0" fill="url(#hr)" stroke="#a82424" stroke-width="1"/>
<rect x="1736.5" y="720.5" width="6" height="8.0" fill="url(#hr)" stroke="#a82424" stroke-width="1"/>
<rect x="1745.5" y="717.5" width="6" height="3.0" fill="url(#hg)" stroke="#18a018" stroke-width="1"/>
<rect x="1754.5" y="710.5" width="6" height="10.0" fill="url(#hg)" stroke="#18a018" stroke-width="1"/>
<rect x="1763.5" y="709.5" width="6" height="11.0" fill="url(#hg)" stroke="#18a018" stroke-width="1"/>
<rect x="3" y="720" width="1821" height="1" fill="#3434d4"/>
<polyline points="2.7,625.3 8.5,625.3 17.5,623.1 26.5,621.1 35.5,619.9 44.5,619.6 53.5,620.1 61.5,620.8 70.5,622.0 79.5,624.0 88.5,626.5 97.5,629.3 106.5,633.2 114.5,639.3 123.5,647.7 132.5,658.1 141.5,669.4 150.5,680.1 159.5,689.3 167.5,697.2 176.5,704.0 185.5,709.6 194.5,714.6 203.5,720.2 212.5,727.5 220.5,736.4 229.5,746.7 238.5,758.0 247.5,769.2 256.5,779.1 264.5,787.9 273.5,796.3 282.5,804.3 291.5,811.4 300.5,816.7 309.5,820.0 317.5,821.3 326.5,820.5 335.5,818.2 344.5,814.9 353.5,810.3 362.5,804.3 370.5,796.6 379.5,787.7 388.5,778.3 397.5,769.1 406.5,760.5 415.5,752.6 423.5,745.3 432.5,738.6 441.5,732.8 450.5,727.0 459.5,720.4 468.5,712.6 476.5,704.2 485.5,696.0 494.5,688.3 503.5,681.5 512.5,676.2 521.5,671.7 529.5,667.2 538.5,662.5 547.5,657.3 556.5,651.3 565.5,644.5 574.5,637.2 582.5,629.2 591.5,620.3 600.5,610.7 609.5,600.7 618.5,591.7 627.5,584.9 635.5,579.9 644.5,576.0 653.5,572.1 662.5,567.7 671.5,563.1 680.5,558.9 688.5,555.4 697.5,552.6 706.5,550.8 715.5,550.2 724.5,551.0 732.5,553.1 741.5,556.2 750.5,560.6 759.5,566.5 768.5,573.8 777.5,582.1 785.5,591.4 794.5,601.6 803.5,613.8 812.5,628.4 821.5,644.2 830.5,659.6 838.5,674.4 847.5,689.7 856.5,706.2 865.5,723.8 874.5,741.9 883.5,761.2 891.5,781.8 900.5,803.1 909.5,824.7 918.5,845.9 927.5,865.0 936.5,880.2 944.5,890.1 953.5,893.8 962.5,890.5 971.5,880.7 980.5,866.6 989.5,850.1 997.5,832.6 1006.5,815.5 1015.5,800.7 1024.5,789.4 1033.5,781.9 1042.5,777.5 1050.5,775.6 1059.5,775.0 1068.5,774.2 1077.5,773.2 1086.5,772.4 1095.5,772.6 1103.5,774.4 1112.5,777.0 1121.5,778.7 1130.5,779.0 1139.5,778.3 1147.5,777.3 1156.5,776.4 1165.5,776.1 1174.5,777.3 1183.5,780.5 1192.5,785.4 1200.5,790.5 1209.5,795.1 1218.5,798.9 1227.5,801.7 1236.5,803.9 1245.5,806.3 1253.5,809.6 1262.5,813.2 1271.5,816.4 1280.5,818.2 1289.5,818.3 1298.5,816.0 1306.5,811.5 1315.5,805.2 1324.5,797.4 1333.5,788.4 1342.5,778.6 1351.5,768.6 1359.5,758.7 1368.5,749.7 1377.5,741.6 1386.5,734.2 1395.5,726.8 1404.5,717.9 1412.5,707.1 1421.5,695.3 1430.5,683.8 1439.5,673.1 1448.5,663.2 1457.5,654.1 1465.5,645.6 1474.5,637.6 1483.5,630.5 1492.5,624.6 1501.5,619.9 1510.5,616.4 1518.5,614.5 1527.5,615.1 1536.5,618.6 1545.5,623.6 1554.5,628.1 1563.5,631.0 1571.5,632.9 1580.5,634.5 1589.5,636.1 1598.5,638.0 1607.5,641.4 1615.5,646.8 1624.5,653.7 1633.5,661.9 1642.5,672.3 1651.5,685.2 1660.5,699.4 1668.5,713.9 1677.5,728.0 1686.5,741.4 1695.5,754.0 1704.5,765.5 1713.5,775.2 1721.5,782.5 1730.5,787.0 1739.5,788.8 1748.5,788.4 1757.5,786.4 1766.5,783.6" fill="none" stroke="#e06060" stroke-width="2.0" stroke-linejoin="round" stroke-linecap="round" stroke-dasharray="12.4 13.3381" stroke-linecap="butt"/>
<polyline points="2.7,624.2 8.5,623.9 17.5,616.6 26.5,609.5 35.5,614.4 44.5,622.0 53.5,625.2 61.5,620.4 70.5,624.4 79.5,633.4 88.5,636.6 97.5,639.3 106.5,647.8 114.5,663.8 123.5,676.8 132.5,705.2 141.5,720.1 150.5,722.9 159.5,724.8 167.5,729.6 176.5,732.4 185.5,732.4 194.5,735.1 203.5,737.8 212.5,751.3 220.5,773.0 229.5,786.6 238.5,813.2 247.5,818.3 256.5,814.5 264.5,820.5 273.5,831.3 282.5,838.9 291.5,846.0 300.5,838.9 309.5,837.3 317.5,828.6 326.5,815.8 335.5,805.5 344.5,802.4 353.5,791.5 362.5,781.4 370.5,764.5 379.5,753.7 388.5,740.1 397.5,733.4 406.5,725.2 415.5,721.7 423.5,715.7 432.5,711.1 441.5,708.4 450.5,705.7 459.5,694.0 468.5,684.0 476.5,670.5 485.5,662.3 494.5,654.5 503.5,653.6 512.5,656.4 521.5,654.7 529.5,652.6 538.5,641.2 547.5,637.6 556.5,627.1 565.5,617.3 574.5,608.6 582.5,601.6 591.5,585.6 600.5,570.7 609.5,559.8 618.5,549.5 627.5,555.8 635.5,562.5 644.5,563.6 653.5,557.9 662.5,550.9 671.5,541.4 680.5,541.4 688.5,543.6 697.5,539.5 706.5,543.6 715.5,548.4 724.5,558.2 732.5,559.8 741.5,566.6 750.5,573.4 759.5,591.0 768.5,608.6 777.5,615.4 785.5,626.3 794.5,637.1 803.5,665.6 812.5,692.7 821.5,713.6 830.5,719.8 838.5,729.8 847.5,752.3 856.5,774.0 865.5,793.0 874.5,808.5 883.5,837.7 891.5,869.5 900.5,885.7 909.5,908.8 918.5,938.1 927.5,954.1 936.5,946.7 944.5,933.2 953.5,919.6 962.5,879.0 971.5,839.6 980.5,808.5 989.5,782.7 997.5,758.3 1006.5,737.4 1015.5,735.2 1024.5,747.5 1033.5,751.5 1042.5,754.8 1050.5,771.0 1059.5,780.8 1068.5,771.3 1077.5,771.3 1086.5,767.2 1095.5,766.2 1103.5,785.7 1112.5,795.2 1121.5,786.8 1130.5,779.4 1139.5,776.5 1147.5,771.3 1156.5,772.4 1165.5,772.4 1174.5,780.0 1183.5,795.6 1192.5,807.8 1200.5,811.8 1209.5,816.4 1218.5,815.4 1227.5,812.6 1236.5,808.6 1245.5,812.6 1253.5,824.0 1262.5,834.3 1271.5,831.6 1280.5,829.4 1289.5,819.2 1298.5,809.9 1306.5,795.0 1315.5,782.8 1324.5,767.6 1333.5,749.5 1342.5,735.9 1351.5,730.8 1359.5,717.7 1368.5,710.7 1377.5,712.9 1386.5,706.1 1395.5,700.1 1404.5,684.4 1412.5,664.1 1421.5,647.8 1430.5,635.6 1439.5,627.5 1448.5,620.7 1457.5,618.0 1465.5,614.4 1474.5,606.3 1483.5,602.3 1492.5,601.5 1501.5,601.5 1510.5,599.3 1518.5,606.6 1527.5,616.1 1536.5,633.7 1545.5,651.3 1554.5,648.6 1563.5,640.5 1571.5,639.7 1580.5,640.5 1589.5,644.6 1598.5,641.9 1607.5,652.7 1615.5,671.7 1624.5,681.2 1633.5,690.7 1642.5,711.0 1651.5,739.5 1660.5,759.8 1668.5,776.6 1677.5,784.2 1686.5,791.8 1695.5,807.3 1704.5,815.7 1713.5,816.2 1721.5,818.4 1730.5,801.3 1739.5,797.8 1748.5,786.4 1757.5,776.6 1766.5,772.5" fill="none" stroke="#2c2cd8" stroke-width="2.0" stroke-linejoin="round" stroke-linecap="round" />
</svg>
<div class="tab" style="left:3px;top:57px;width:88px"><span style="letter-spacing:-0.27px">Precio</span></div>
<div class="lbl" style="left:95px;top:59px;letter-spacing:-0.08px">Año:+Alto 6,604 +Bajo 5,916</div>
<div class="tab" style="left:3px;top:518px;width:135px"><span style="letter-spacing:-0.17px">MACD (12 26 9)</span></div>
<div class="lbl" style="left:5px;top:502px;letter-spacing:-0.3px">© ProRealTime.com</div><div class="lbl" style="left:104px;top:502px;font-style:italic;letter-spacing:0.06px">Datos recibidos en fin de día</div>
<svg class="abs" style="left:40px;top:57px" width="52" height="16" viewBox="0 0 52 16"><path d="M6.300 1.500 L9.600 1.500 L9.600 4.600 L12.600 4.600 L12.600 7.800 L8.300 8.600 L3 13.500 Q1.200 14.200 0.600 12.200 L5.500 6.200 L5.500 2.400 Z" fill="#fff" stroke="#000" stroke-width="1.3" stroke-linejoin="round"/><rect x="17.600" y="1.600" width="12" height="12" rx="1.500" fill="#fff" stroke="#000" stroke-width="1.200"/><path d="M17.600 5 V3 Q17.600 1.600 19 1.600 H28.200 Q29.600 1.600 29.600 3 V5z" fill="#000"/><circle cx="40.500" cy="7.500" r="6.500" fill="#2a2a2a"/><path d="M37.700 4.700 l5.600 5.600 M43.300 4.700 l-5.600 5.600" stroke="#fff" stroke-width="2.100"/></svg>
<svg class="abs" style="left:87px;top:518px" width="52" height="16" viewBox="0 0 52 16"><path d="M6.300 1.500 L9.600 1.500 L9.600 4.600 L12.600 4.600 L12.600 7.800 L8.300 8.600 L3 13.500 Q1.200 14.200 0.600 12.200 L5.500 6.200 L5.500 2.400 Z" fill="#fff" stroke="#000" stroke-width="1.3" stroke-linejoin="round"/><rect x="17.600" y="1.600" width="12" height="12" rx="1.500" fill="#fff" stroke="#000" stroke-width="1.200"/><path d="M17.600 5 V3 Q17.600 1.600 19 1.600 H28.200 Q29.600 1.600 29.600 3 V5z" fill="#000"/><circle cx="40.500" cy="7.500" r="6.500" fill="#2a2a2a"/><path d="M37.700 4.700 l5.600 5.600 M43.300 4.700 l-5.600 5.600" stroke="#fff" stroke-width="2.100"/></svg>
<div class="ax" style="left:1831px;top:68.0px;">12</div>
<div class="ax" style="left:1831px;top:121.0px;font-weight:bold;font-size:12.5px;">10</div>
<div class="ax" style="left:1831px;top:152.0px;">9</div>
<div class="ax" style="left:1831px;top:187.0px;">8</div>
<div class="ax" style="left:1831px;top:325.0px;font-weight:bold;font-size:12.5px;">5</div>
<div class="ax" style="left:1831px;top:391.0px;">4</div>
<div class="ax" style="left:1831px;top:476.0px;">3</div>
<div class="ax" style="left:1830px;top:960.0px;">-1,4</div>
<div class="ax" style="left:1830px;top:925.0px;">-1,2</div>
<div class="ax" style="left:1830px;top:890.0px;font-weight:bold;font-size:12.5px;">-1</div>
<div class="ax" style="left:1830px;top:855.0px;">-0,8</div>
<div class="ax" style="left:1830px;top:820.0px;">-0,6</div>
<div class="ax" style="left:1830px;top:784.0px;">-0,4</div>
<div class="ax" style="left:1830px;top:750.0px;">-0,2</div>
<div class="ax" style="left:1830.5px;top:714.0px;font-weight:bold;font-size:12.5px;">0</div>
<div class="ax" style="left:1831px;top:679.0px;">0,2</div>
<div class="ax" style="left:1831px;top:644.0px;">0,4</div>
<div class="ax" style="left:1831px;top:609.0px;">0,6</div>
<div class="ax" style="left:1831px;top:574.0px;">0,8</div>
<div class="ax" style="left:1830.5px;top:539.0px;font-weight:bold;font-size:12.5px;">1</div>
<div class="abs" style="left:1825px;top:233px;width:4px;height:1px;background:#e01020"></div>
<div class="abs" style="left:1825px;top:240px;width:4px;height:1px;background:#000"></div>
<div class="abs" style="left:1825px;top:278px;width:4px;height:2px;background:#000"></div>
<div class="box" style="left:1829px;top:221px;width:37px;color:#f02030">6,9816</div>
<div class="box" style="left:1829px;top:236px;width:37px;color:#000">6,8246</div>
<div class="box" style="left:1829px;top:271px;width:31px;background:#ffc800;border-color:#9a9a70;color:#000">5,973</div>
<div class="abs" style="left:1825px;top:709px;width:4px;height:1px;background:#30c030"></div>
<div class="abs" style="left:1825px;top:772px;width:4px;height:1px;background:#2c2cd8"></div>
<div class="abs" style="left:1825px;top:783px;width:4px;height:1px;background:#e06060"></div>
<div class="box" style="left:1829px;top:701px;width:37px;color:#30c030">0,0650</div>
<div class="box" style="left:1829px;top:762px;width:40px;color:#2c2cd8">-0,2930</div>
<div class="box" style="left:1829px;top:777px;width:40px;color:#e06060">-0,3580</div>
<div class="ax" style="left:41.5px;top:982px;width:40px;text-align:center">2001</div>
<div class="ax" style="left:147.5px;top:982px;width:40px;text-align:center">2002</div>
<div class="ax" style="left:253.5px;top:982px;width:40px;text-align:center">2003</div>
<div class="ax" style="left:359.5px;top:982px;width:40px;text-align:center">2004</div>
<div class="ax" style="left:465.5px;top:982px;width:40px;text-align:center">2005</div>
<div class="ax" style="left:571.5px;top:982px;width:40px;text-align:center">2006</div>
<div class="ax" style="left:677.5px;top:982px;width:40px;text-align:center">2007</div>
<div class="ax" style="left:783.5px;top:982px;width:40px;text-align:center">2008</div>
<div class="ax" style="left:889.5px;top:982px;width:40px;text-align:center">2009</div>
<div class="ax" style="left:995.5px;top:982px;width:40px;text-align:center">2010</div>
<div class="ax" style="left:1101.5px;top:982px;width:40px;text-align:center">2011</div>
<div class="ax" style="left:1207.5px;top:982px;width:40px;text-align:center">2012</div>
<div class="ax" style="left:1313.5px;top:982px;width:40px;text-align:center">2013</div>
<div class="ax" style="left:1419.5px;top:982px;width:40px;text-align:center">2014</div>
<div class="ax" style="left:1525.5px;top:982px;width:40px;text-align:center">2015</div>
<div class="ax" style="left:1631.5px;top:982px;width:40px;text-align:center">2016</div>
<div class="ax" style="left:1737.5px;top:982px;width:40px;text-align:center">2017</div>
</body></html>
